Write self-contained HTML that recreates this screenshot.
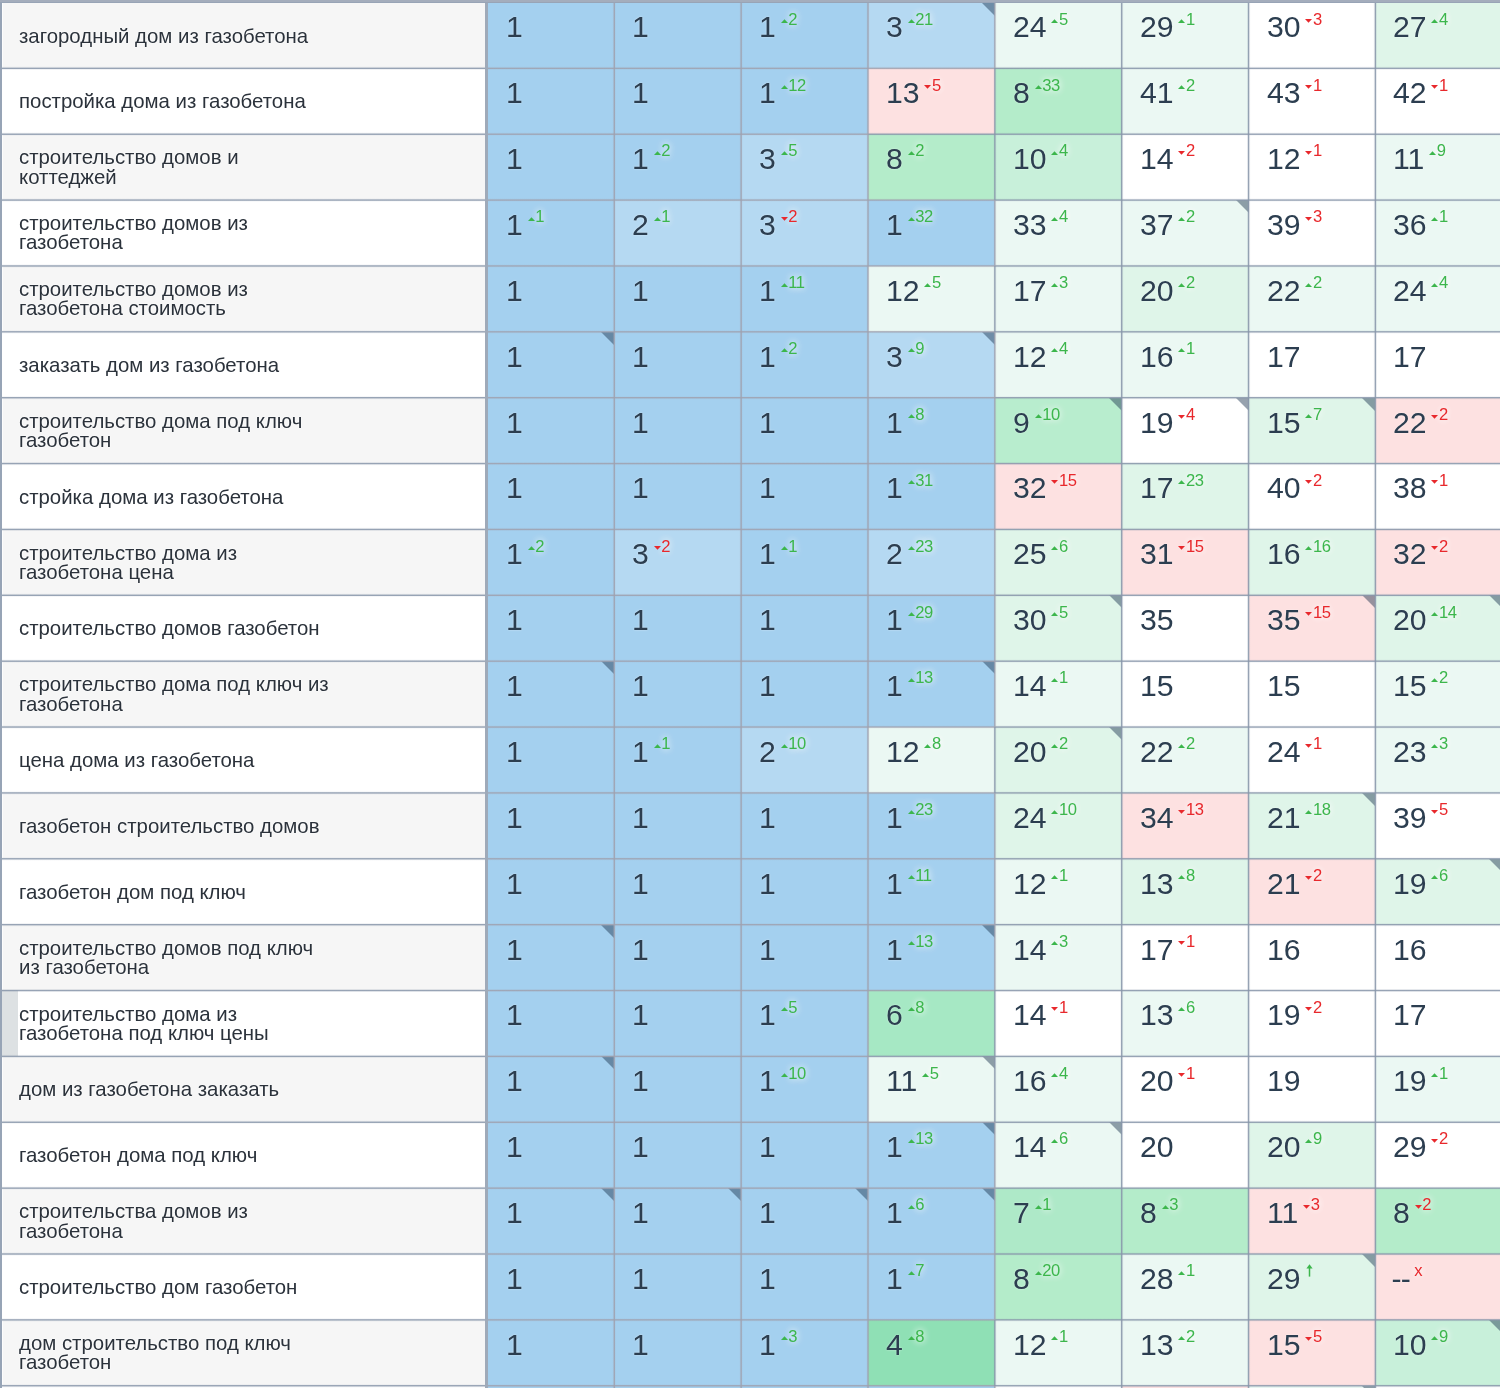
<!DOCTYPE html><html><head><meta charset="utf-8"><title>table</title><style>
html,body{margin:0;padding:0;}
body{width:1500px;height:1388px;overflow:hidden;position:relative;background:#fff;font-family:"Liberation Sans", sans-serif;}
.c{position:absolute;overflow:hidden;}
.l{position:absolute;}
.lc{background:#f6f6f6;}
.lc.e{background:#fff;}
.lt{position:absolute;left:17px;white-space:nowrap;font-size:20.4px;line-height:19.2px;color:#2b323b;text-shadow:0 0 2px #fff,0 0 2px #fff;}
.n{position:absolute;left:18px;white-space:nowrap;font-size:30.2px;line-height:30px;color:#2c3e50;text-shadow:0 0 2px rgba(255,255,255,.55);}
.d{position:relative;font-size:16.6px;letter-spacing:-0.4px;margin-left:4.8px;top:-12.7px;text-shadow:0 0 6px #fff,0 0 10px rgba(255,255,255,.6);}
.up{color:#3cb64c;}
.dn{color:#e8282c;}
.tri{display:inline-block;width:7px;height:4px;vertical-align:baseline;margin-right:0.6px;position:relative;}
.up .tri{top:-1.6px;}
.arr{display:inline-block;width:7px;height:13px;vertical-align:baseline;position:relative;top:0.3px;margin-left:1px;}
.dn .tri{top:-1.4px;}
.cr{position:absolute;top:0;right:0;width:0;height:0;border-top:13.5px solid rgba(24,49,75,.45);border-left:13.5px solid transparent;}

</style></head><body>
<div class="c lc" style="left:2px;top:3px;width:483px;height:65px"><div class="lt" style="top:23.56px">загородный дом из газобетона</div></div>
<div class="c" style="left:488px;top:3px;width:126px;height:65px;background:#a4d0ef"><div class="n" style="top:9.37px">1</div></div>
<div class="c" style="left:614px;top:3px;width:127px;height:65px;background:#a4d0ef"><div class="n" style="top:9.37px">1</div></div>
<div class="c" style="left:741px;top:3px;width:127px;height:65px;background:#a4d0ef"><div class="n" style="top:9.37px">1<span class="d up"><svg class="tri" viewBox="0 0 7 4"><path d="M0 4L3.5 0.2L7 4Z" fill="#3cb64c"/></svg>2</span></div></div>
<div class="c" style="left:868px;top:3px;width:127px;height:65px;background:#b5d9f2"><div class="n" style="top:9.37px">3<span class="d up"><svg class="tri" viewBox="0 0 7 4"><path d="M0 4L3.5 0.2L7 4Z" fill="#3cb64c"/></svg>21</span></div><div class="cr"></div></div>
<div class="c" style="left:995px;top:3px;width:127px;height:65px;background:#ebf8f3"><div class="n" style="top:9.37px">24<span class="d up"><svg class="tri" viewBox="0 0 7 4"><path d="M0 4L3.5 0.2L7 4Z" fill="#3cb64c"/></svg>5</span></div></div>
<div class="c" style="left:1122px;top:3px;width:127px;height:65px;background:#ebf8f3"><div class="n" style="top:9.37px">29<span class="d up"><svg class="tri" viewBox="0 0 7 4"><path d="M0 4L3.5 0.2L7 4Z" fill="#3cb64c"/></svg>1</span></div></div>
<div class="c" style="left:1249px;top:3px;width:126px;height:65px;background:#ffffff"><div class="n" style="top:9.37px">30<span class="d dn"><svg class="tri" viewBox="0 0 7 4"><path d="M0 0L7 0L3.5 3.8Z" fill="#e8282c"/></svg>3</span></div></div>
<div class="c" style="left:1375px;top:3px;width:127px;height:65px;background:#dff5e9"><div class="n" style="top:9.37px">27<span class="d up"><svg class="tri" viewBox="0 0 7 4"><path d="M0 4L3.5 0.2L7 4Z" fill="#3cb64c"/></svg>4</span></div></div>
<div class="c lc e" style="left:2px;top:68px;width:483px;height:66px"><div class="lt" style="top:24.43px">постройка дома из газобетона</div></div>
<div class="c" style="left:488px;top:68px;width:126px;height:66px;background:#a4d0ef"><div class="n" style="top:10.24px">1</div></div>
<div class="c" style="left:614px;top:68px;width:127px;height:66px;background:#a4d0ef"><div class="n" style="top:10.24px">1</div></div>
<div class="c" style="left:741px;top:68px;width:127px;height:66px;background:#a4d0ef"><div class="n" style="top:10.24px">1<span class="d up"><svg class="tri" viewBox="0 0 7 4"><path d="M0 4L3.5 0.2L7 4Z" fill="#3cb64c"/></svg>12</span></div></div>
<div class="c" style="left:868px;top:68px;width:127px;height:66px;background:#fde1e1"><div class="n" style="top:10.24px">13<span class="d dn"><svg class="tri" viewBox="0 0 7 4"><path d="M0 0L7 0L3.5 3.8Z" fill="#e8282c"/></svg>5</span></div></div>
<div class="c" style="left:995px;top:68px;width:127px;height:66px;background:#b4ecca"><div class="n" style="top:10.24px">8<span class="d up"><svg class="tri" viewBox="0 0 7 4"><path d="M0 4L3.5 0.2L7 4Z" fill="#3cb64c"/></svg>33</span></div></div>
<div class="c" style="left:1122px;top:68px;width:127px;height:66px;background:#ebf8f3"><div class="n" style="top:10.24px">41<span class="d up"><svg class="tri" viewBox="0 0 7 4"><path d="M0 4L3.5 0.2L7 4Z" fill="#3cb64c"/></svg>2</span></div></div>
<div class="c" style="left:1249px;top:68px;width:126px;height:66px;background:#ffffff"><div class="n" style="top:10.24px">43<span class="d dn"><svg class="tri" viewBox="0 0 7 4"><path d="M0 0L7 0L3.5 3.8Z" fill="#e8282c"/></svg>1</span></div></div>
<div class="c" style="left:1375px;top:68px;width:127px;height:66px;background:#ffffff"><div class="n" style="top:10.24px">42<span class="d dn"><svg class="tri" viewBox="0 0 7 4"><path d="M0 0L7 0L3.5 3.8Z" fill="#e8282c"/></svg>1</span></div></div>
<div class="c lc" style="left:2px;top:134px;width:483px;height:66px"><div class="lt" style="top:14.40px">строительство домов и<br>коттеджей</div></div>
<div class="c" style="left:488px;top:134px;width:126px;height:66px;background:#a4d0ef"><div class="n" style="top:10.11px">1</div></div>
<div class="c" style="left:614px;top:134px;width:127px;height:66px;background:#a4d0ef"><div class="n" style="top:10.11px">1<span class="d up"><svg class="tri" viewBox="0 0 7 4"><path d="M0 4L3.5 0.2L7 4Z" fill="#3cb64c"/></svg>2</span></div></div>
<div class="c" style="left:741px;top:134px;width:127px;height:66px;background:#b5d9f2"><div class="n" style="top:10.11px">3<span class="d up"><svg class="tri" viewBox="0 0 7 4"><path d="M0 4L3.5 0.2L7 4Z" fill="#3cb64c"/></svg>5</span></div></div>
<div class="c" style="left:868px;top:134px;width:127px;height:66px;background:#b4ecca"><div class="n" style="top:10.11px">8<span class="d up"><svg class="tri" viewBox="0 0 7 4"><path d="M0 4L3.5 0.2L7 4Z" fill="#3cb64c"/></svg>2</span></div></div>
<div class="c" style="left:995px;top:134px;width:127px;height:66px;background:#c8f0da"><div class="n" style="top:10.11px">10<span class="d up"><svg class="tri" viewBox="0 0 7 4"><path d="M0 4L3.5 0.2L7 4Z" fill="#3cb64c"/></svg>4</span></div></div>
<div class="c" style="left:1122px;top:134px;width:127px;height:66px;background:#ffffff"><div class="n" style="top:10.11px">14<span class="d dn"><svg class="tri" viewBox="0 0 7 4"><path d="M0 0L7 0L3.5 3.8Z" fill="#e8282c"/></svg>2</span></div></div>
<div class="c" style="left:1249px;top:134px;width:126px;height:66px;background:#ffffff"><div class="n" style="top:10.11px">12<span class="d dn"><svg class="tri" viewBox="0 0 7 4"><path d="M0 0L7 0L3.5 3.8Z" fill="#e8282c"/></svg>1</span></div></div>
<div class="c" style="left:1375px;top:134px;width:127px;height:66px;background:#ebf8f3"><div class="n" style="top:10.11px">11<span class="d up"><svg class="tri" viewBox="0 0 7 4"><path d="M0 4L3.5 0.2L7 4Z" fill="#3cb64c"/></svg>9</span></div></div>
<div class="c lc e" style="left:2px;top:200px;width:483px;height:66px"><div class="lt" style="top:14.27px">строительство домов из<br>газобетона</div></div>
<div class="c" style="left:488px;top:200px;width:126px;height:66px;background:#a4d0ef"><div class="n" style="top:9.98px">1<span class="d up"><svg class="tri" viewBox="0 0 7 4"><path d="M0 4L3.5 0.2L7 4Z" fill="#3cb64c"/></svg>1</span></div></div>
<div class="c" style="left:614px;top:200px;width:127px;height:66px;background:#b5d9f2"><div class="n" style="top:9.98px">2<span class="d up"><svg class="tri" viewBox="0 0 7 4"><path d="M0 4L3.5 0.2L7 4Z" fill="#3cb64c"/></svg>1</span></div></div>
<div class="c" style="left:741px;top:200px;width:127px;height:66px;background:#b5d9f2"><div class="n" style="top:9.98px">3<span class="d dn"><svg class="tri" viewBox="0 0 7 4"><path d="M0 0L7 0L3.5 3.8Z" fill="#e8282c"/></svg>2</span></div></div>
<div class="c" style="left:868px;top:200px;width:127px;height:66px;background:#a4d0ef"><div class="n" style="top:9.98px">1<span class="d up"><svg class="tri" viewBox="0 0 7 4"><path d="M0 4L3.5 0.2L7 4Z" fill="#3cb64c"/></svg>32</span></div></div>
<div class="c" style="left:995px;top:200px;width:127px;height:66px;background:#ebf8f3"><div class="n" style="top:9.98px">33<span class="d up"><svg class="tri" viewBox="0 0 7 4"><path d="M0 4L3.5 0.2L7 4Z" fill="#3cb64c"/></svg>4</span></div></div>
<div class="c" style="left:1122px;top:200px;width:127px;height:66px;background:#ebf8f3"><div class="n" style="top:9.98px">37<span class="d up"><svg class="tri" viewBox="0 0 7 4"><path d="M0 4L3.5 0.2L7 4Z" fill="#3cb64c"/></svg>2</span></div><div class="cr"></div></div>
<div class="c" style="left:1249px;top:200px;width:126px;height:66px;background:#ffffff"><div class="n" style="top:9.98px">39<span class="d dn"><svg class="tri" viewBox="0 0 7 4"><path d="M0 0L7 0L3.5 3.8Z" fill="#e8282c"/></svg>3</span></div></div>
<div class="c" style="left:1375px;top:200px;width:127px;height:66px;background:#ebf8f3"><div class="n" style="top:9.98px">36<span class="d up"><svg class="tri" viewBox="0 0 7 4"><path d="M0 4L3.5 0.2L7 4Z" fill="#3cb64c"/></svg>1</span></div></div>
<div class="c lc" style="left:2px;top:266px;width:483px;height:66px"><div class="lt" style="top:14.14px">строительство домов из<br>газобетона стоимость</div></div>
<div class="c" style="left:488px;top:266px;width:126px;height:66px;background:#a4d0ef"><div class="n" style="top:9.85px">1</div></div>
<div class="c" style="left:614px;top:266px;width:127px;height:66px;background:#a4d0ef"><div class="n" style="top:9.85px">1</div></div>
<div class="c" style="left:741px;top:266px;width:127px;height:66px;background:#a4d0ef"><div class="n" style="top:9.85px">1<span class="d up"><svg class="tri" viewBox="0 0 7 4"><path d="M0 4L3.5 0.2L7 4Z" fill="#3cb64c"/></svg>11</span></div></div>
<div class="c" style="left:868px;top:266px;width:127px;height:66px;background:#ebf8f3"><div class="n" style="top:9.85px">12<span class="d up"><svg class="tri" viewBox="0 0 7 4"><path d="M0 4L3.5 0.2L7 4Z" fill="#3cb64c"/></svg>5</span></div></div>
<div class="c" style="left:995px;top:266px;width:127px;height:66px;background:#ebf8f3"><div class="n" style="top:9.85px">17<span class="d up"><svg class="tri" viewBox="0 0 7 4"><path d="M0 4L3.5 0.2L7 4Z" fill="#3cb64c"/></svg>3</span></div></div>
<div class="c" style="left:1122px;top:266px;width:127px;height:66px;background:#dff5e9"><div class="n" style="top:9.85px">20<span class="d up"><svg class="tri" viewBox="0 0 7 4"><path d="M0 4L3.5 0.2L7 4Z" fill="#3cb64c"/></svg>2</span></div></div>
<div class="c" style="left:1249px;top:266px;width:126px;height:66px;background:#ebf8f3"><div class="n" style="top:9.85px">22<span class="d up"><svg class="tri" viewBox="0 0 7 4"><path d="M0 4L3.5 0.2L7 4Z" fill="#3cb64c"/></svg>2</span></div></div>
<div class="c" style="left:1375px;top:266px;width:127px;height:66px;background:#ebf8f3"><div class="n" style="top:9.85px">24<span class="d up"><svg class="tri" viewBox="0 0 7 4"><path d="M0 4L3.5 0.2L7 4Z" fill="#3cb64c"/></svg>4</span></div></div>
<div class="c lc e" style="left:2px;top:332px;width:483px;height:66px"><div class="lt" style="top:23.91px">заказать дом из газобетона</div></div>
<div class="c" style="left:488px;top:332px;width:126px;height:66px;background:#a4d0ef"><div class="n" style="top:9.72px">1</div><div class="cr"></div></div>
<div class="c" style="left:614px;top:332px;width:127px;height:66px;background:#a4d0ef"><div class="n" style="top:9.72px">1</div></div>
<div class="c" style="left:741px;top:332px;width:127px;height:66px;background:#a4d0ef"><div class="n" style="top:9.72px">1<span class="d up"><svg class="tri" viewBox="0 0 7 4"><path d="M0 4L3.5 0.2L7 4Z" fill="#3cb64c"/></svg>2</span></div></div>
<div class="c" style="left:868px;top:332px;width:127px;height:66px;background:#b5d9f2"><div class="n" style="top:9.72px">3<span class="d up"><svg class="tri" viewBox="0 0 7 4"><path d="M0 4L3.5 0.2L7 4Z" fill="#3cb64c"/></svg>9</span></div><div class="cr"></div></div>
<div class="c" style="left:995px;top:332px;width:127px;height:66px;background:#ebf8f3"><div class="n" style="top:9.72px">12<span class="d up"><svg class="tri" viewBox="0 0 7 4"><path d="M0 4L3.5 0.2L7 4Z" fill="#3cb64c"/></svg>4</span></div></div>
<div class="c" style="left:1122px;top:332px;width:127px;height:66px;background:#ebf8f3"><div class="n" style="top:9.72px">16<span class="d up"><svg class="tri" viewBox="0 0 7 4"><path d="M0 4L3.5 0.2L7 4Z" fill="#3cb64c"/></svg>1</span></div></div>
<div class="c" style="left:1249px;top:332px;width:126px;height:66px;background:#ffffff"><div class="n" style="top:9.72px">17</div></div>
<div class="c" style="left:1375px;top:332px;width:127px;height:66px;background:#ffffff"><div class="n" style="top:9.72px">17</div></div>
<div class="c lc" style="left:2px;top:398px;width:483px;height:65px"><div class="lt" style="top:13.88px">строительство дома под ключ<br>газобетон</div></div>
<div class="c" style="left:488px;top:398px;width:126px;height:65px;background:#a4d0ef"><div class="n" style="top:9.59px">1</div></div>
<div class="c" style="left:614px;top:398px;width:127px;height:65px;background:#a4d0ef"><div class="n" style="top:9.59px">1</div></div>
<div class="c" style="left:741px;top:398px;width:127px;height:65px;background:#a4d0ef"><div class="n" style="top:9.59px">1</div></div>
<div class="c" style="left:868px;top:398px;width:127px;height:65px;background:#a4d0ef"><div class="n" style="top:9.59px">1<span class="d up"><svg class="tri" viewBox="0 0 7 4"><path d="M0 4L3.5 0.2L7 4Z" fill="#3cb64c"/></svg>8</span></div></div>
<div class="c" style="left:995px;top:398px;width:127px;height:65px;background:#b8edce"><div class="n" style="top:9.59px">9<span class="d up"><svg class="tri" viewBox="0 0 7 4"><path d="M0 4L3.5 0.2L7 4Z" fill="#3cb64c"/></svg>10</span></div><div class="cr"></div></div>
<div class="c" style="left:1122px;top:398px;width:127px;height:65px;background:#ffffff"><div class="n" style="top:9.59px">19<span class="d dn"><svg class="tri" viewBox="0 0 7 4"><path d="M0 0L7 0L3.5 3.8Z" fill="#e8282c"/></svg>4</span></div><div class="cr"></div></div>
<div class="c" style="left:1249px;top:398px;width:126px;height:65px;background:#dff5e9"><div class="n" style="top:9.59px">15<span class="d up"><svg class="tri" viewBox="0 0 7 4"><path d="M0 4L3.5 0.2L7 4Z" fill="#3cb64c"/></svg>7</span></div><div class="cr"></div></div>
<div class="c" style="left:1375px;top:398px;width:127px;height:65px;background:#fde1e1"><div class="n" style="top:9.59px">22<span class="d dn"><svg class="tri" viewBox="0 0 7 4"><path d="M0 0L7 0L3.5 3.8Z" fill="#e8282c"/></svg>2</span></div></div>
<div class="c lc e" style="left:2px;top:463px;width:483px;height:66px"><div class="lt" style="top:24.65px">стройка дома из газобетона</div></div>
<div class="c" style="left:488px;top:463px;width:126px;height:66px;background:#a4d0ef"><div class="n" style="top:10.46px">1</div></div>
<div class="c" style="left:614px;top:463px;width:127px;height:66px;background:#a4d0ef"><div class="n" style="top:10.46px">1</div></div>
<div class="c" style="left:741px;top:463px;width:127px;height:66px;background:#a4d0ef"><div class="n" style="top:10.46px">1</div></div>
<div class="c" style="left:868px;top:463px;width:127px;height:66px;background:#a4d0ef"><div class="n" style="top:10.46px">1<span class="d up"><svg class="tri" viewBox="0 0 7 4"><path d="M0 4L3.5 0.2L7 4Z" fill="#3cb64c"/></svg>31</span></div></div>
<div class="c" style="left:995px;top:463px;width:127px;height:66px;background:#fde1e1"><div class="n" style="top:10.46px">32<span class="d dn"><svg class="tri" viewBox="0 0 7 4"><path d="M0 0L7 0L3.5 3.8Z" fill="#e8282c"/></svg>15</span></div></div>
<div class="c" style="left:1122px;top:463px;width:127px;height:66px;background:#dff5e9"><div class="n" style="top:10.46px">17<span class="d up"><svg class="tri" viewBox="0 0 7 4"><path d="M0 4L3.5 0.2L7 4Z" fill="#3cb64c"/></svg>23</span></div></div>
<div class="c" style="left:1249px;top:463px;width:126px;height:66px;background:#ffffff"><div class="n" style="top:10.46px">40<span class="d dn"><svg class="tri" viewBox="0 0 7 4"><path d="M0 0L7 0L3.5 3.8Z" fill="#e8282c"/></svg>2</span></div></div>
<div class="c" style="left:1375px;top:463px;width:127px;height:66px;background:#ffffff"><div class="n" style="top:10.46px">38<span class="d dn"><svg class="tri" viewBox="0 0 7 4"><path d="M0 0L7 0L3.5 3.8Z" fill="#e8282c"/></svg>1</span></div></div>
<div class="c lc" style="left:2px;top:529px;width:483px;height:66px"><div class="lt" style="top:14.62px">строительство дома из<br>газобетона цена</div></div>
<div class="c" style="left:488px;top:529px;width:126px;height:66px;background:#a4d0ef"><div class="n" style="top:10.33px">1<span class="d up"><svg class="tri" viewBox="0 0 7 4"><path d="M0 4L3.5 0.2L7 4Z" fill="#3cb64c"/></svg>2</span></div></div>
<div class="c" style="left:614px;top:529px;width:127px;height:66px;background:#b5d9f2"><div class="n" style="top:10.33px">3<span class="d dn"><svg class="tri" viewBox="0 0 7 4"><path d="M0 0L7 0L3.5 3.8Z" fill="#e8282c"/></svg>2</span></div></div>
<div class="c" style="left:741px;top:529px;width:127px;height:66px;background:#a4d0ef"><div class="n" style="top:10.33px">1<span class="d up"><svg class="tri" viewBox="0 0 7 4"><path d="M0 4L3.5 0.2L7 4Z" fill="#3cb64c"/></svg>1</span></div></div>
<div class="c" style="left:868px;top:529px;width:127px;height:66px;background:#b5d9f2"><div class="n" style="top:10.33px">2<span class="d up"><svg class="tri" viewBox="0 0 7 4"><path d="M0 4L3.5 0.2L7 4Z" fill="#3cb64c"/></svg>23</span></div></div>
<div class="c" style="left:995px;top:529px;width:127px;height:66px;background:#dff5e9"><div class="n" style="top:10.33px">25<span class="d up"><svg class="tri" viewBox="0 0 7 4"><path d="M0 4L3.5 0.2L7 4Z" fill="#3cb64c"/></svg>6</span></div></div>
<div class="c" style="left:1122px;top:529px;width:127px;height:66px;background:#fde1e1"><div class="n" style="top:10.33px">31<span class="d dn"><svg class="tri" viewBox="0 0 7 4"><path d="M0 0L7 0L3.5 3.8Z" fill="#e8282c"/></svg>15</span></div></div>
<div class="c" style="left:1249px;top:529px;width:126px;height:66px;background:#dff5e9"><div class="n" style="top:10.33px">16<span class="d up"><svg class="tri" viewBox="0 0 7 4"><path d="M0 4L3.5 0.2L7 4Z" fill="#3cb64c"/></svg>16</span></div></div>
<div class="c" style="left:1375px;top:529px;width:127px;height:66px;background:#fde1e1"><div class="n" style="top:10.33px">32<span class="d dn"><svg class="tri" viewBox="0 0 7 4"><path d="M0 0L7 0L3.5 3.8Z" fill="#e8282c"/></svg>2</span></div></div>
<div class="c lc e" style="left:2px;top:595px;width:483px;height:66px"><div class="lt" style="top:24.39px">строительство домов газобетон</div></div>
<div class="c" style="left:488px;top:595px;width:126px;height:66px;background:#a4d0ef"><div class="n" style="top:10.20px">1</div></div>
<div class="c" style="left:614px;top:595px;width:127px;height:66px;background:#a4d0ef"><div class="n" style="top:10.20px">1</div></div>
<div class="c" style="left:741px;top:595px;width:127px;height:66px;background:#a4d0ef"><div class="n" style="top:10.20px">1</div></div>
<div class="c" style="left:868px;top:595px;width:127px;height:66px;background:#a4d0ef"><div class="n" style="top:10.20px">1<span class="d up"><svg class="tri" viewBox="0 0 7 4"><path d="M0 4L3.5 0.2L7 4Z" fill="#3cb64c"/></svg>29</span></div></div>
<div class="c" style="left:995px;top:595px;width:127px;height:66px;background:#dff5e9"><div class="n" style="top:10.20px">30<span class="d up"><svg class="tri" viewBox="0 0 7 4"><path d="M0 4L3.5 0.2L7 4Z" fill="#3cb64c"/></svg>5</span></div><div class="cr"></div></div>
<div class="c" style="left:1122px;top:595px;width:127px;height:66px;background:#ffffff"><div class="n" style="top:10.20px">35</div></div>
<div class="c" style="left:1249px;top:595px;width:126px;height:66px;background:#fde1e1"><div class="n" style="top:10.20px">35<span class="d dn"><svg class="tri" viewBox="0 0 7 4"><path d="M0 0L7 0L3.5 3.8Z" fill="#e8282c"/></svg>15</span></div><div class="cr"></div></div>
<div class="c" style="left:1375px;top:595px;width:127px;height:66px;background:#dff5e9"><div class="n" style="top:10.20px">20<span class="d up"><svg class="tri" viewBox="0 0 7 4"><path d="M0 4L3.5 0.2L7 4Z" fill="#3cb64c"/></svg>14</span></div><div class="cr"></div></div>
<div class="c lc" style="left:2px;top:661px;width:483px;height:66px"><div class="lt" style="top:14.36px">строительство дома под ключ из<br>газобетона</div></div>
<div class="c" style="left:488px;top:661px;width:126px;height:66px;background:#a4d0ef"><div class="n" style="top:10.07px">1</div><div class="cr"></div></div>
<div class="c" style="left:614px;top:661px;width:127px;height:66px;background:#a4d0ef"><div class="n" style="top:10.07px">1</div></div>
<div class="c" style="left:741px;top:661px;width:127px;height:66px;background:#a4d0ef"><div class="n" style="top:10.07px">1</div></div>
<div class="c" style="left:868px;top:661px;width:127px;height:66px;background:#a4d0ef"><div class="n" style="top:10.07px">1<span class="d up"><svg class="tri" viewBox="0 0 7 4"><path d="M0 4L3.5 0.2L7 4Z" fill="#3cb64c"/></svg>13</span></div><div class="cr"></div></div>
<div class="c" style="left:995px;top:661px;width:127px;height:66px;background:#ebf8f3"><div class="n" style="top:10.07px">14<span class="d up"><svg class="tri" viewBox="0 0 7 4"><path d="M0 4L3.5 0.2L7 4Z" fill="#3cb64c"/></svg>1</span></div></div>
<div class="c" style="left:1122px;top:661px;width:127px;height:66px;background:#ffffff"><div class="n" style="top:10.07px">15</div></div>
<div class="c" style="left:1249px;top:661px;width:126px;height:66px;background:#ffffff"><div class="n" style="top:10.07px">15</div></div>
<div class="c" style="left:1375px;top:661px;width:127px;height:66px;background:#ebf8f3"><div class="n" style="top:10.07px">15<span class="d up"><svg class="tri" viewBox="0 0 7 4"><path d="M0 4L3.5 0.2L7 4Z" fill="#3cb64c"/></svg>2</span></div></div>
<div class="c lc e" style="left:2px;top:727px;width:483px;height:66px"><div class="lt" style="top:24.13px">цена дома из газобетона</div></div>
<div class="c" style="left:488px;top:727px;width:126px;height:66px;background:#a4d0ef"><div class="n" style="top:9.94px">1</div></div>
<div class="c" style="left:614px;top:727px;width:127px;height:66px;background:#a4d0ef"><div class="n" style="top:9.94px">1<span class="d up"><svg class="tri" viewBox="0 0 7 4"><path d="M0 4L3.5 0.2L7 4Z" fill="#3cb64c"/></svg>1</span></div></div>
<div class="c" style="left:741px;top:727px;width:127px;height:66px;background:#b5d9f2"><div class="n" style="top:9.94px">2<span class="d up"><svg class="tri" viewBox="0 0 7 4"><path d="M0 4L3.5 0.2L7 4Z" fill="#3cb64c"/></svg>10</span></div></div>
<div class="c" style="left:868px;top:727px;width:127px;height:66px;background:#ebf8f3"><div class="n" style="top:9.94px">12<span class="d up"><svg class="tri" viewBox="0 0 7 4"><path d="M0 4L3.5 0.2L7 4Z" fill="#3cb64c"/></svg>8</span></div></div>
<div class="c" style="left:995px;top:727px;width:127px;height:66px;background:#dff5e9"><div class="n" style="top:9.94px">20<span class="d up"><svg class="tri" viewBox="0 0 7 4"><path d="M0 4L3.5 0.2L7 4Z" fill="#3cb64c"/></svg>2</span></div><div class="cr"></div></div>
<div class="c" style="left:1122px;top:727px;width:127px;height:66px;background:#ebf8f3"><div class="n" style="top:9.94px">22<span class="d up"><svg class="tri" viewBox="0 0 7 4"><path d="M0 4L3.5 0.2L7 4Z" fill="#3cb64c"/></svg>2</span></div></div>
<div class="c" style="left:1249px;top:727px;width:126px;height:66px;background:#ffffff"><div class="n" style="top:9.94px">24<span class="d dn"><svg class="tri" viewBox="0 0 7 4"><path d="M0 0L7 0L3.5 3.8Z" fill="#e8282c"/></svg>1</span></div></div>
<div class="c" style="left:1375px;top:727px;width:127px;height:66px;background:#ebf8f3"><div class="n" style="top:9.94px">23<span class="d up"><svg class="tri" viewBox="0 0 7 4"><path d="M0 4L3.5 0.2L7 4Z" fill="#3cb64c"/></svg>3</span></div></div>
<div class="c lc" style="left:2px;top:793px;width:483px;height:66px"><div class="lt" style="top:24.00px">газобетон строительство домов</div></div>
<div class="c" style="left:488px;top:793px;width:126px;height:66px;background:#a4d0ef"><div class="n" style="top:9.81px">1</div></div>
<div class="c" style="left:614px;top:793px;width:127px;height:66px;background:#a4d0ef"><div class="n" style="top:9.81px">1</div></div>
<div class="c" style="left:741px;top:793px;width:127px;height:66px;background:#a4d0ef"><div class="n" style="top:9.81px">1</div></div>
<div class="c" style="left:868px;top:793px;width:127px;height:66px;background:#a4d0ef"><div class="n" style="top:9.81px">1<span class="d up"><svg class="tri" viewBox="0 0 7 4"><path d="M0 4L3.5 0.2L7 4Z" fill="#3cb64c"/></svg>23</span></div></div>
<div class="c" style="left:995px;top:793px;width:127px;height:66px;background:#dff5e9"><div class="n" style="top:9.81px">24<span class="d up"><svg class="tri" viewBox="0 0 7 4"><path d="M0 4L3.5 0.2L7 4Z" fill="#3cb64c"/></svg>10</span></div></div>
<div class="c" style="left:1122px;top:793px;width:127px;height:66px;background:#fde1e1"><div class="n" style="top:9.81px">34<span class="d dn"><svg class="tri" viewBox="0 0 7 4"><path d="M0 0L7 0L3.5 3.8Z" fill="#e8282c"/></svg>13</span></div></div>
<div class="c" style="left:1249px;top:793px;width:126px;height:66px;background:#dff5e9"><div class="n" style="top:9.81px">21<span class="d up"><svg class="tri" viewBox="0 0 7 4"><path d="M0 4L3.5 0.2L7 4Z" fill="#3cb64c"/></svg>18</span></div><div class="cr"></div></div>
<div class="c" style="left:1375px;top:793px;width:127px;height:66px;background:#ffffff"><div class="n" style="top:9.81px">39<span class="d dn"><svg class="tri" viewBox="0 0 7 4"><path d="M0 0L7 0L3.5 3.8Z" fill="#e8282c"/></svg>5</span></div></div>
<div class="c lc e" style="left:2px;top:859px;width:483px;height:66px"><div class="lt" style="top:23.87px">газобетон дом под ключ</div></div>
<div class="c" style="left:488px;top:859px;width:126px;height:66px;background:#a4d0ef"><div class="n" style="top:9.68px">1</div></div>
<div class="c" style="left:614px;top:859px;width:127px;height:66px;background:#a4d0ef"><div class="n" style="top:9.68px">1</div></div>
<div class="c" style="left:741px;top:859px;width:127px;height:66px;background:#a4d0ef"><div class="n" style="top:9.68px">1</div></div>
<div class="c" style="left:868px;top:859px;width:127px;height:66px;background:#a4d0ef"><div class="n" style="top:9.68px">1<span class="d up"><svg class="tri" viewBox="0 0 7 4"><path d="M0 4L3.5 0.2L7 4Z" fill="#3cb64c"/></svg>11</span></div></div>
<div class="c" style="left:995px;top:859px;width:127px;height:66px;background:#ebf8f3"><div class="n" style="top:9.68px">12<span class="d up"><svg class="tri" viewBox="0 0 7 4"><path d="M0 4L3.5 0.2L7 4Z" fill="#3cb64c"/></svg>1</span></div></div>
<div class="c" style="left:1122px;top:859px;width:127px;height:66px;background:#dff5e9"><div class="n" style="top:9.68px">13<span class="d up"><svg class="tri" viewBox="0 0 7 4"><path d="M0 4L3.5 0.2L7 4Z" fill="#3cb64c"/></svg>8</span></div></div>
<div class="c" style="left:1249px;top:859px;width:126px;height:66px;background:#fde1e1"><div class="n" style="top:9.68px">21<span class="d dn"><svg class="tri" viewBox="0 0 7 4"><path d="M0 0L7 0L3.5 3.8Z" fill="#e8282c"/></svg>2</span></div></div>
<div class="c" style="left:1375px;top:859px;width:127px;height:66px;background:#dff5e9"><div class="n" style="top:9.68px">19<span class="d up"><svg class="tri" viewBox="0 0 7 4"><path d="M0 4L3.5 0.2L7 4Z" fill="#3cb64c"/></svg>6</span></div><div class="cr"></div></div>
<div class="c lc" style="left:2px;top:925px;width:483px;height:65px"><div class="lt" style="top:13.84px">строительство домов под ключ<br>из газобетона</div></div>
<div class="c" style="left:488px;top:925px;width:126px;height:65px;background:#a4d0ef"><div class="n" style="top:9.55px">1</div><div class="cr"></div></div>
<div class="c" style="left:614px;top:925px;width:127px;height:65px;background:#a4d0ef"><div class="n" style="top:9.55px">1</div></div>
<div class="c" style="left:741px;top:925px;width:127px;height:65px;background:#a4d0ef"><div class="n" style="top:9.55px">1</div></div>
<div class="c" style="left:868px;top:925px;width:127px;height:65px;background:#a4d0ef"><div class="n" style="top:9.55px">1<span class="d up"><svg class="tri" viewBox="0 0 7 4"><path d="M0 4L3.5 0.2L7 4Z" fill="#3cb64c"/></svg>13</span></div><div class="cr"></div></div>
<div class="c" style="left:995px;top:925px;width:127px;height:65px;background:#ebf8f3"><div class="n" style="top:9.55px">14<span class="d up"><svg class="tri" viewBox="0 0 7 4"><path d="M0 4L3.5 0.2L7 4Z" fill="#3cb64c"/></svg>3</span></div></div>
<div class="c" style="left:1122px;top:925px;width:127px;height:65px;background:#ffffff"><div class="n" style="top:9.55px">17<span class="d dn"><svg class="tri" viewBox="0 0 7 4"><path d="M0 0L7 0L3.5 3.8Z" fill="#e8282c"/></svg>1</span></div></div>
<div class="c" style="left:1249px;top:925px;width:126px;height:65px;background:#ffffff"><div class="n" style="top:9.55px">16</div></div>
<div class="c" style="left:1375px;top:925px;width:127px;height:65px;background:#ffffff"><div class="n" style="top:9.55px">16</div></div>
<div class="c lc e" style="left:2px;top:990px;width:483px;height:66px"><div class="lt" style="top:14.71px">строительство дома из<br>газобетона под ключ цены</div></div>
<div class="c" style="left:488px;top:990px;width:126px;height:66px;background:#a4d0ef"><div class="n" style="top:10.42px">1</div></div>
<div class="c" style="left:614px;top:990px;width:127px;height:66px;background:#a4d0ef"><div class="n" style="top:10.42px">1</div></div>
<div class="c" style="left:741px;top:990px;width:127px;height:66px;background:#a4d0ef"><div class="n" style="top:10.42px">1<span class="d up"><svg class="tri" viewBox="0 0 7 4"><path d="M0 4L3.5 0.2L7 4Z" fill="#3cb64c"/></svg>5</span></div></div>
<div class="c" style="left:868px;top:990px;width:127px;height:66px;background:#a6e8c4"><div class="n" style="top:10.42px">6<span class="d up"><svg class="tri" viewBox="0 0 7 4"><path d="M0 4L3.5 0.2L7 4Z" fill="#3cb64c"/></svg>8</span></div></div>
<div class="c" style="left:995px;top:990px;width:127px;height:66px;background:#ffffff"><div class="n" style="top:10.42px">14<span class="d dn"><svg class="tri" viewBox="0 0 7 4"><path d="M0 0L7 0L3.5 3.8Z" fill="#e8282c"/></svg>1</span></div></div>
<div class="c" style="left:1122px;top:990px;width:127px;height:66px;background:#ebf8f3"><div class="n" style="top:10.42px">13<span class="d up"><svg class="tri" viewBox="0 0 7 4"><path d="M0 4L3.5 0.2L7 4Z" fill="#3cb64c"/></svg>6</span></div></div>
<div class="c" style="left:1249px;top:990px;width:126px;height:66px;background:#ffffff"><div class="n" style="top:10.42px">19<span class="d dn"><svg class="tri" viewBox="0 0 7 4"><path d="M0 0L7 0L3.5 3.8Z" fill="#e8282c"/></svg>2</span></div></div>
<div class="c" style="left:1375px;top:990px;width:127px;height:66px;background:#ffffff"><div class="n" style="top:10.42px">17</div></div>
<div class="c lc" style="left:2px;top:1056px;width:483px;height:66px"><div class="lt" style="top:24.48px">дом из газобетона заказать</div></div>
<div class="c" style="left:488px;top:1056px;width:126px;height:66px;background:#a4d0ef"><div class="n" style="top:10.29px">1</div><div class="cr"></div></div>
<div class="c" style="left:614px;top:1056px;width:127px;height:66px;background:#a4d0ef"><div class="n" style="top:10.29px">1</div></div>
<div class="c" style="left:741px;top:1056px;width:127px;height:66px;background:#a4d0ef"><div class="n" style="top:10.29px">1<span class="d up"><svg class="tri" viewBox="0 0 7 4"><path d="M0 4L3.5 0.2L7 4Z" fill="#3cb64c"/></svg>10</span></div></div>
<div class="c" style="left:868px;top:1056px;width:127px;height:66px;background:#ebf8f3"><div class="n" style="top:10.29px">11<span class="d up"><svg class="tri" viewBox="0 0 7 4"><path d="M0 4L3.5 0.2L7 4Z" fill="#3cb64c"/></svg>5</span></div><div class="cr"></div></div>
<div class="c" style="left:995px;top:1056px;width:127px;height:66px;background:#ebf8f3"><div class="n" style="top:10.29px">16<span class="d up"><svg class="tri" viewBox="0 0 7 4"><path d="M0 4L3.5 0.2L7 4Z" fill="#3cb64c"/></svg>4</span></div></div>
<div class="c" style="left:1122px;top:1056px;width:127px;height:66px;background:#ffffff"><div class="n" style="top:10.29px">20<span class="d dn"><svg class="tri" viewBox="0 0 7 4"><path d="M0 0L7 0L3.5 3.8Z" fill="#e8282c"/></svg>1</span></div></div>
<div class="c" style="left:1249px;top:1056px;width:126px;height:66px;background:#ffffff"><div class="n" style="top:10.29px">19</div></div>
<div class="c" style="left:1375px;top:1056px;width:127px;height:66px;background:#ebf8f3"><div class="n" style="top:10.29px">19<span class="d up"><svg class="tri" viewBox="0 0 7 4"><path d="M0 4L3.5 0.2L7 4Z" fill="#3cb64c"/></svg>1</span></div></div>
<div class="c lc e" style="left:2px;top:1122px;width:483px;height:66px"><div class="lt" style="top:24.35px">газобетон дома под ключ</div></div>
<div class="c" style="left:488px;top:1122px;width:126px;height:66px;background:#a4d0ef"><div class="n" style="top:10.16px">1</div></div>
<div class="c" style="left:614px;top:1122px;width:127px;height:66px;background:#a4d0ef"><div class="n" style="top:10.16px">1</div></div>
<div class="c" style="left:741px;top:1122px;width:127px;height:66px;background:#a4d0ef"><div class="n" style="top:10.16px">1</div></div>
<div class="c" style="left:868px;top:1122px;width:127px;height:66px;background:#a4d0ef"><div class="n" style="top:10.16px">1<span class="d up"><svg class="tri" viewBox="0 0 7 4"><path d="M0 4L3.5 0.2L7 4Z" fill="#3cb64c"/></svg>13</span></div><div class="cr"></div></div>
<div class="c" style="left:995px;top:1122px;width:127px;height:66px;background:#ebf8f3"><div class="n" style="top:10.16px">14<span class="d up"><svg class="tri" viewBox="0 0 7 4"><path d="M0 4L3.5 0.2L7 4Z" fill="#3cb64c"/></svg>6</span></div><div class="cr"></div></div>
<div class="c" style="left:1122px;top:1122px;width:127px;height:66px;background:#ffffff"><div class="n" style="top:10.16px">20</div></div>
<div class="c" style="left:1249px;top:1122px;width:126px;height:66px;background:#dff5e9"><div class="n" style="top:10.16px">20<span class="d up"><svg class="tri" viewBox="0 0 7 4"><path d="M0 4L3.5 0.2L7 4Z" fill="#3cb64c"/></svg>9</span></div></div>
<div class="c" style="left:1375px;top:1122px;width:127px;height:66px;background:#ffffff"><div class="n" style="top:10.16px">29<span class="d dn"><svg class="tri" viewBox="0 0 7 4"><path d="M0 0L7 0L3.5 3.8Z" fill="#e8282c"/></svg>2</span></div></div>
<div class="c lc" style="left:2px;top:1188px;width:483px;height:66px"><div class="lt" style="top:14.32px">строительства домов из<br>газобетона</div></div>
<div class="c" style="left:488px;top:1188px;width:126px;height:66px;background:#a4d0ef"><div class="n" style="top:10.03px">1</div><div class="cr"></div></div>
<div class="c" style="left:614px;top:1188px;width:127px;height:66px;background:#a4d0ef"><div class="n" style="top:10.03px">1</div><div class="cr"></div></div>
<div class="c" style="left:741px;top:1188px;width:127px;height:66px;background:#a4d0ef"><div class="n" style="top:10.03px">1</div><div class="cr"></div></div>
<div class="c" style="left:868px;top:1188px;width:127px;height:66px;background:#a4d0ef"><div class="n" style="top:10.03px">1<span class="d up"><svg class="tri" viewBox="0 0 7 4"><path d="M0 4L3.5 0.2L7 4Z" fill="#3cb64c"/></svg>6</span></div><div class="cr"></div></div>
<div class="c" style="left:995px;top:1188px;width:127px;height:66px;background:#aee9c8"><div class="n" style="top:10.03px">7<span class="d up"><svg class="tri" viewBox="0 0 7 4"><path d="M0 4L3.5 0.2L7 4Z" fill="#3cb64c"/></svg>1</span></div></div>
<div class="c" style="left:1122px;top:1188px;width:127px;height:66px;background:#b4ecca"><div class="n" style="top:10.03px">8<span class="d up"><svg class="tri" viewBox="0 0 7 4"><path d="M0 4L3.5 0.2L7 4Z" fill="#3cb64c"/></svg>3</span></div></div>
<div class="c" style="left:1249px;top:1188px;width:126px;height:66px;background:#fde1e1"><div class="n" style="top:10.03px">11<span class="d dn"><svg class="tri" viewBox="0 0 7 4"><path d="M0 0L7 0L3.5 3.8Z" fill="#e8282c"/></svg>3</span></div></div>
<div class="c" style="left:1375px;top:1188px;width:127px;height:66px;background:#b4ecca"><div class="n" style="top:10.03px">8<span class="d dn"><svg class="tri" viewBox="0 0 7 4"><path d="M0 0L7 0L3.5 3.8Z" fill="#e8282c"/></svg>2</span></div></div>
<div class="c lc e" style="left:2px;top:1254px;width:483px;height:66px"><div class="lt" style="top:24.09px">строительство дом газобетон</div></div>
<div class="c" style="left:488px;top:1254px;width:126px;height:66px;background:#a4d0ef"><div class="n" style="top:9.90px">1</div></div>
<div class="c" style="left:614px;top:1254px;width:127px;height:66px;background:#a4d0ef"><div class="n" style="top:9.90px">1</div></div>
<div class="c" style="left:741px;top:1254px;width:127px;height:66px;background:#a4d0ef"><div class="n" style="top:9.90px">1</div></div>
<div class="c" style="left:868px;top:1254px;width:127px;height:66px;background:#a4d0ef"><div class="n" style="top:9.90px">1<span class="d up"><svg class="tri" viewBox="0 0 7 4"><path d="M0 4L3.5 0.2L7 4Z" fill="#3cb64c"/></svg>7</span></div></div>
<div class="c" style="left:995px;top:1254px;width:127px;height:66px;background:#b4ecca"><div class="n" style="top:9.90px">8<span class="d up"><svg class="tri" viewBox="0 0 7 4"><path d="M0 4L3.5 0.2L7 4Z" fill="#3cb64c"/></svg>20</span></div></div>
<div class="c" style="left:1122px;top:1254px;width:127px;height:66px;background:#ebf8f3"><div class="n" style="top:9.90px">28<span class="d up"><svg class="tri" viewBox="0 0 7 4"><path d="M0 4L3.5 0.2L7 4Z" fill="#3cb64c"/></svg>1</span></div></div>
<div class="c" style="left:1249px;top:1254px;width:126px;height:66px;background:#dff5e9"><div class="n" style="top:9.90px">29<span class="d up"><svg class="arr" viewBox="0 0 7 13"><path d="M3.5 3.5V12.6" stroke="#3cb64c" stroke-width="1.5"/><path d="M0.4 4.6L3.5 0.3L6.6 4.6Z" fill="#3cb64c"/></svg></span></div><div class="cr"></div></div>
<div class="c" style="left:1375px;top:1254px;width:127px;height:66px;background:#fde1e1"><div class="n" style="top:9.90px"><span style="letter-spacing:-0.9px;margin-left:-1.5px">--</span><span class="d dn" style="margin-left:4.5px">x</span></div></div>
<div class="c lc" style="left:2px;top:1320px;width:483px;height:66px"><div class="lt" style="top:14.06px">дом строительство под ключ<br>газобетон</div></div>
<div class="c" style="left:488px;top:1320px;width:126px;height:66px;background:#a4d0ef"><div class="n" style="top:9.77px">1</div></div>
<div class="c" style="left:614px;top:1320px;width:127px;height:66px;background:#a4d0ef"><div class="n" style="top:9.77px">1</div></div>
<div class="c" style="left:741px;top:1320px;width:127px;height:66px;background:#a4d0ef"><div class="n" style="top:9.77px">1<span class="d up"><svg class="tri" viewBox="0 0 7 4"><path d="M0 4L3.5 0.2L7 4Z" fill="#3cb64c"/></svg>3</span></div></div>
<div class="c" style="left:868px;top:1320px;width:127px;height:66px;background:#8fe0b5"><div class="n" style="top:9.77px">4<span class="d up"><svg class="tri" viewBox="0 0 7 4"><path d="M0 4L3.5 0.2L7 4Z" fill="#3cb64c"/></svg>8</span></div></div>
<div class="c" style="left:995px;top:1320px;width:127px;height:66px;background:#ebf8f3"><div class="n" style="top:9.77px">12<span class="d up"><svg class="tri" viewBox="0 0 7 4"><path d="M0 4L3.5 0.2L7 4Z" fill="#3cb64c"/></svg>1</span></div></div>
<div class="c" style="left:1122px;top:1320px;width:127px;height:66px;background:#ebf8f3"><div class="n" style="top:9.77px">13<span class="d up"><svg class="tri" viewBox="0 0 7 4"><path d="M0 4L3.5 0.2L7 4Z" fill="#3cb64c"/></svg>2</span></div></div>
<div class="c" style="left:1249px;top:1320px;width:126px;height:66px;background:#fde1e1"><div class="n" style="top:9.77px">15<span class="d dn"><svg class="tri" viewBox="0 0 7 4"><path d="M0 0L7 0L3.5 3.8Z" fill="#e8282c"/></svg>5</span></div></div>
<div class="c" style="left:1375px;top:1320px;width:127px;height:66px;background:#c8f0da"><div class="n" style="top:9.77px">10<span class="d up"><svg class="tri" viewBox="0 0 7 4"><path d="M0 4L3.5 0.2L7 4Z" fill="#3cb64c"/></svg>9</span></div><div class="cr"></div></div>
<div class="c lc e" style="left:2px;top:1386px;width:483px;height:65px"></div>
<div class="c" style="left:488px;top:1386px;width:126px;height:65px;background:#a4d0ef"></div>
<div class="c" style="left:614px;top:1386px;width:127px;height:65px;background:#a4d0ef"></div>
<div class="c" style="left:741px;top:1386px;width:127px;height:65px;background:#a4d0ef"></div>
<div class="c" style="left:868px;top:1386px;width:127px;height:65px;background:#a4d0ef"></div>
<div class="c" style="left:995px;top:1386px;width:127px;height:65px;background:#ffffff"></div>
<div class="c" style="left:1122px;top:1386px;width:127px;height:65px;background:#fde1e1"></div>
<div class="c" style="left:1249px;top:1386px;width:126px;height:65px;background:#ebf8f3"><div class="cr"></div></div>
<div class="c" style="left:1375px;top:1386px;width:127px;height:65px;background:#ffffff"></div>
<div class="l" style="left:2px;top:3px;width:1px;height:1385px;background:rgba(255,255,255,.8)"></div>
<div class="l" style="left:2px;top:990px;width:16px;height:66px;background:#dde1e3"></div>
<div class="l" style="left:2px;top:66px;width:483px;height:4px;background:linear-gradient(to bottom,rgba(136,150,170,0.03) 0px 1px,rgba(136,150,170,0.37) 1px 2px,rgba(136,150,170,0.87) 2px 3px,rgba(136,150,170,0.12) 3px 4px)"></div>
<div class="l" style="left:488px;top:66px;width:126px;height:4px;background:linear-gradient(to bottom,rgba(159,161,175,0.03) 0px 1px,rgba(159,161,175,0.37) 1px 2px,rgba(159,161,175,0.87) 2px 3px,rgba(159,161,175,0.12) 3px 4px)"></div>
<div class="l" style="left:614px;top:66px;width:127px;height:4px;background:linear-gradient(to bottom,rgba(159,161,175,0.03) 0px 1px,rgba(159,161,175,0.37) 1px 2px,rgba(159,161,175,0.87) 2px 3px,rgba(159,161,175,0.12) 3px 4px)"></div>
<div class="l" style="left:741px;top:66px;width:127px;height:4px;background:linear-gradient(to bottom,rgba(159,161,175,0.03) 0px 1px,rgba(159,161,175,0.37) 1px 2px,rgba(159,161,175,0.87) 2px 3px,rgba(159,161,175,0.12) 3px 4px)"></div>
<div class="l" style="left:868px;top:66px;width:127px;height:4px;background:linear-gradient(to bottom,rgba(159,161,175,0.03) 0px 1px,rgba(159,161,175,0.37) 1px 2px,rgba(159,161,175,0.87) 2px 3px,rgba(159,161,175,0.12) 3px 4px)"></div>
<div class="l" style="left:995px;top:66px;width:127px;height:4px;background:linear-gradient(to bottom,rgba(136,150,170,0.03) 0px 1px,rgba(136,150,170,0.37) 1px 2px,rgba(136,150,170,0.87) 2px 3px,rgba(136,150,170,0.12) 3px 4px)"></div>
<div class="l" style="left:1122px;top:66px;width:127px;height:4px;background:linear-gradient(to bottom,rgba(136,150,170,0.03) 0px 1px,rgba(136,150,170,0.37) 1px 2px,rgba(136,150,170,0.87) 2px 3px,rgba(136,150,170,0.12) 3px 4px)"></div>
<div class="l" style="left:1249px;top:66px;width:126px;height:4px;background:linear-gradient(to bottom,rgba(136,150,170,0.03) 0px 1px,rgba(136,150,170,0.37) 1px 2px,rgba(136,150,170,0.87) 2px 3px,rgba(136,150,170,0.12) 3px 4px)"></div>
<div class="l" style="left:1375px;top:66px;width:125px;height:4px;background:linear-gradient(to bottom,rgba(136,150,170,0.03) 0px 1px,rgba(136,150,170,0.37) 1px 2px,rgba(136,150,170,0.87) 2px 3px,rgba(136,150,170,0.12) 3px 4px)"></div>
<div class="l" style="left:2px;top:132px;width:483px;height:4px;background:linear-gradient(to bottom,rgba(136,150,170,0.04) 0px 1px,rgba(136,150,170,0.48) 1px 2px,rgba(136,150,170,0.81) 2px 3px,rgba(136,150,170,0.07) 3px 4px)"></div>
<div class="l" style="left:488px;top:132px;width:126px;height:4px;background:linear-gradient(to bottom,rgba(159,161,175,0.04) 0px 1px,rgba(159,161,175,0.48) 1px 2px,rgba(159,161,175,0.81) 2px 3px,rgba(159,161,175,0.07) 3px 4px)"></div>
<div class="l" style="left:614px;top:132px;width:127px;height:4px;background:linear-gradient(to bottom,rgba(159,161,175,0.04) 0px 1px,rgba(159,161,175,0.48) 1px 2px,rgba(159,161,175,0.81) 2px 3px,rgba(159,161,175,0.07) 3px 4px)"></div>
<div class="l" style="left:741px;top:132px;width:127px;height:4px;background:linear-gradient(to bottom,rgba(159,161,175,0.04) 0px 1px,rgba(159,161,175,0.48) 1px 2px,rgba(159,161,175,0.81) 2px 3px,rgba(159,161,175,0.07) 3px 4px)"></div>
<div class="l" style="left:868px;top:132px;width:127px;height:4px;background:linear-gradient(to bottom,rgba(136,150,170,0.04) 0px 1px,rgba(136,150,170,0.48) 1px 2px,rgba(136,150,170,0.81) 2px 3px,rgba(136,150,170,0.07) 3px 4px)"></div>
<div class="l" style="left:995px;top:132px;width:127px;height:4px;background:linear-gradient(to bottom,rgba(136,150,170,0.04) 0px 1px,rgba(136,150,170,0.48) 1px 2px,rgba(136,150,170,0.81) 2px 3px,rgba(136,150,170,0.07) 3px 4px)"></div>
<div class="l" style="left:1122px;top:132px;width:127px;height:4px;background:linear-gradient(to bottom,rgba(136,150,170,0.04) 0px 1px,rgba(136,150,170,0.48) 1px 2px,rgba(136,150,170,0.81) 2px 3px,rgba(136,150,170,0.07) 3px 4px)"></div>
<div class="l" style="left:1249px;top:132px;width:126px;height:4px;background:linear-gradient(to bottom,rgba(136,150,170,0.04) 0px 1px,rgba(136,150,170,0.48) 1px 2px,rgba(136,150,170,0.81) 2px 3px,rgba(136,150,170,0.07) 3px 4px)"></div>
<div class="l" style="left:1375px;top:132px;width:125px;height:4px;background:linear-gradient(to bottom,rgba(136,150,170,0.04) 0px 1px,rgba(136,150,170,0.48) 1px 2px,rgba(136,150,170,0.81) 2px 3px,rgba(136,150,170,0.07) 3px 4px)"></div>
<div class="l" style="left:2px;top:198px;width:483px;height:4px;background:linear-gradient(to bottom,rgba(136,150,170,0.05) 0px 1px,rgba(136,150,170,0.58) 1px 2px,rgba(136,150,170,0.71) 2px 3px,rgba(136,150,170,0.06) 3px 4px)"></div>
<div class="l" style="left:488px;top:198px;width:126px;height:4px;background:linear-gradient(to bottom,rgba(159,161,175,0.05) 0px 1px,rgba(159,161,175,0.58) 1px 2px,rgba(159,161,175,0.71) 2px 3px,rgba(159,161,175,0.06) 3px 4px)"></div>
<div class="l" style="left:614px;top:198px;width:127px;height:4px;background:linear-gradient(to bottom,rgba(159,161,175,0.05) 0px 1px,rgba(159,161,175,0.58) 1px 2px,rgba(159,161,175,0.71) 2px 3px,rgba(159,161,175,0.06) 3px 4px)"></div>
<div class="l" style="left:741px;top:198px;width:127px;height:4px;background:linear-gradient(to bottom,rgba(159,161,175,0.05) 0px 1px,rgba(159,161,175,0.58) 1px 2px,rgba(159,161,175,0.71) 2px 3px,rgba(159,161,175,0.06) 3px 4px)"></div>
<div class="l" style="left:868px;top:198px;width:127px;height:4px;background:linear-gradient(to bottom,rgba(159,161,175,0.05) 0px 1px,rgba(159,161,175,0.58) 1px 2px,rgba(159,161,175,0.71) 2px 3px,rgba(159,161,175,0.06) 3px 4px)"></div>
<div class="l" style="left:995px;top:198px;width:127px;height:4px;background:linear-gradient(to bottom,rgba(136,150,170,0.05) 0px 1px,rgba(136,150,170,0.58) 1px 2px,rgba(136,150,170,0.71) 2px 3px,rgba(136,150,170,0.06) 3px 4px)"></div>
<div class="l" style="left:1122px;top:198px;width:127px;height:4px;background:linear-gradient(to bottom,rgba(136,150,170,0.05) 0px 1px,rgba(136,150,170,0.58) 1px 2px,rgba(136,150,170,0.71) 2px 3px,rgba(136,150,170,0.06) 3px 4px)"></div>
<div class="l" style="left:1249px;top:198px;width:126px;height:4px;background:linear-gradient(to bottom,rgba(136,150,170,0.05) 0px 1px,rgba(136,150,170,0.58) 1px 2px,rgba(136,150,170,0.71) 2px 3px,rgba(136,150,170,0.06) 3px 4px)"></div>
<div class="l" style="left:1375px;top:198px;width:125px;height:4px;background:linear-gradient(to bottom,rgba(136,150,170,0.05) 0px 1px,rgba(136,150,170,0.58) 1px 2px,rgba(136,150,170,0.71) 2px 3px,rgba(136,150,170,0.06) 3px 4px)"></div>
<div class="l" style="left:2px;top:264px;width:483px;height:4px;background:linear-gradient(to bottom,rgba(136,150,170,0.06) 0px 1px,rgba(136,150,170,0.67) 1px 2px,rgba(136,150,170,0.61) 2px 3px,rgba(136,150,170,0.05) 3px 4px)"></div>
<div class="l" style="left:488px;top:264px;width:126px;height:4px;background:linear-gradient(to bottom,rgba(159,161,175,0.06) 0px 1px,rgba(159,161,175,0.67) 1px 2px,rgba(159,161,175,0.61) 2px 3px,rgba(159,161,175,0.05) 3px 4px)"></div>
<div class="l" style="left:614px;top:264px;width:127px;height:4px;background:linear-gradient(to bottom,rgba(159,161,175,0.06) 0px 1px,rgba(159,161,175,0.67) 1px 2px,rgba(159,161,175,0.61) 2px 3px,rgba(159,161,175,0.05) 3px 4px)"></div>
<div class="l" style="left:741px;top:264px;width:127px;height:4px;background:linear-gradient(to bottom,rgba(159,161,175,0.06) 0px 1px,rgba(159,161,175,0.67) 1px 2px,rgba(159,161,175,0.61) 2px 3px,rgba(159,161,175,0.05) 3px 4px)"></div>
<div class="l" style="left:868px;top:264px;width:127px;height:4px;background:linear-gradient(to bottom,rgba(159,161,175,0.06) 0px 1px,rgba(159,161,175,0.67) 1px 2px,rgba(159,161,175,0.61) 2px 3px,rgba(159,161,175,0.05) 3px 4px)"></div>
<div class="l" style="left:995px;top:264px;width:127px;height:4px;background:linear-gradient(to bottom,rgba(136,150,170,0.06) 0px 1px,rgba(136,150,170,0.67) 1px 2px,rgba(136,150,170,0.61) 2px 3px,rgba(136,150,170,0.05) 3px 4px)"></div>
<div class="l" style="left:1122px;top:264px;width:127px;height:4px;background:linear-gradient(to bottom,rgba(136,150,170,0.06) 0px 1px,rgba(136,150,170,0.67) 1px 2px,rgba(136,150,170,0.61) 2px 3px,rgba(136,150,170,0.05) 3px 4px)"></div>
<div class="l" style="left:1249px;top:264px;width:126px;height:4px;background:linear-gradient(to bottom,rgba(136,150,170,0.06) 0px 1px,rgba(136,150,170,0.67) 1px 2px,rgba(136,150,170,0.61) 2px 3px,rgba(136,150,170,0.05) 3px 4px)"></div>
<div class="l" style="left:1375px;top:264px;width:125px;height:4px;background:linear-gradient(to bottom,rgba(136,150,170,0.06) 0px 1px,rgba(136,150,170,0.67) 1px 2px,rgba(136,150,170,0.61) 2px 3px,rgba(136,150,170,0.05) 3px 4px)"></div>
<div class="l" style="left:2px;top:330px;width:483px;height:4px;background:linear-gradient(to bottom,rgba(136,150,170,0.07) 0px 1px,rgba(136,150,170,0.77) 1px 2px,rgba(136,150,170,0.51) 2px 3px,rgba(136,150,170,0.04) 3px 4px)"></div>
<div class="l" style="left:488px;top:330px;width:126px;height:4px;background:linear-gradient(to bottom,rgba(159,161,175,0.07) 0px 1px,rgba(159,161,175,0.77) 1px 2px,rgba(159,161,175,0.51) 2px 3px,rgba(159,161,175,0.04) 3px 4px)"></div>
<div class="l" style="left:614px;top:330px;width:127px;height:4px;background:linear-gradient(to bottom,rgba(159,161,175,0.07) 0px 1px,rgba(159,161,175,0.77) 1px 2px,rgba(159,161,175,0.51) 2px 3px,rgba(159,161,175,0.04) 3px 4px)"></div>
<div class="l" style="left:741px;top:330px;width:127px;height:4px;background:linear-gradient(to bottom,rgba(159,161,175,0.07) 0px 1px,rgba(159,161,175,0.77) 1px 2px,rgba(159,161,175,0.51) 2px 3px,rgba(159,161,175,0.04) 3px 4px)"></div>
<div class="l" style="left:868px;top:330px;width:127px;height:4px;background:linear-gradient(to bottom,rgba(159,161,175,0.07) 0px 1px,rgba(159,161,175,0.77) 1px 2px,rgba(159,161,175,0.51) 2px 3px,rgba(159,161,175,0.04) 3px 4px)"></div>
<div class="l" style="left:995px;top:330px;width:127px;height:4px;background:linear-gradient(to bottom,rgba(136,150,170,0.07) 0px 1px,rgba(136,150,170,0.77) 1px 2px,rgba(136,150,170,0.51) 2px 3px,rgba(136,150,170,0.04) 3px 4px)"></div>
<div class="l" style="left:1122px;top:330px;width:127px;height:4px;background:linear-gradient(to bottom,rgba(136,150,170,0.07) 0px 1px,rgba(136,150,170,0.77) 1px 2px,rgba(136,150,170,0.51) 2px 3px,rgba(136,150,170,0.04) 3px 4px)"></div>
<div class="l" style="left:1249px;top:330px;width:126px;height:4px;background:linear-gradient(to bottom,rgba(136,150,170,0.07) 0px 1px,rgba(136,150,170,0.77) 1px 2px,rgba(136,150,170,0.51) 2px 3px,rgba(136,150,170,0.04) 3px 4px)"></div>
<div class="l" style="left:1375px;top:330px;width:125px;height:4px;background:linear-gradient(to bottom,rgba(136,150,170,0.07) 0px 1px,rgba(136,150,170,0.77) 1px 2px,rgba(136,150,170,0.51) 2px 3px,rgba(136,150,170,0.04) 3px 4px)"></div>
<div class="l" style="left:2px;top:396px;width:483px;height:4px;background:linear-gradient(to bottom,rgba(136,150,170,0.08) 0px 1px,rgba(136,150,170,0.87) 1px 2px,rgba(136,150,170,0.42) 2px 3px,rgba(136,150,170,0.03) 3px 4px)"></div>
<div class="l" style="left:488px;top:396px;width:126px;height:4px;background:linear-gradient(to bottom,rgba(159,161,175,0.08) 0px 1px,rgba(159,161,175,0.87) 1px 2px,rgba(159,161,175,0.42) 2px 3px,rgba(159,161,175,0.03) 3px 4px)"></div>
<div class="l" style="left:614px;top:396px;width:127px;height:4px;background:linear-gradient(to bottom,rgba(159,161,175,0.08) 0px 1px,rgba(159,161,175,0.87) 1px 2px,rgba(159,161,175,0.42) 2px 3px,rgba(159,161,175,0.03) 3px 4px)"></div>
<div class="l" style="left:741px;top:396px;width:127px;height:4px;background:linear-gradient(to bottom,rgba(159,161,175,0.08) 0px 1px,rgba(159,161,175,0.87) 1px 2px,rgba(159,161,175,0.42) 2px 3px,rgba(159,161,175,0.03) 3px 4px)"></div>
<div class="l" style="left:868px;top:396px;width:127px;height:4px;background:linear-gradient(to bottom,rgba(159,161,175,0.08) 0px 1px,rgba(159,161,175,0.87) 1px 2px,rgba(159,161,175,0.42) 2px 3px,rgba(159,161,175,0.03) 3px 4px)"></div>
<div class="l" style="left:995px;top:396px;width:127px;height:4px;background:linear-gradient(to bottom,rgba(136,150,170,0.08) 0px 1px,rgba(136,150,170,0.87) 1px 2px,rgba(136,150,170,0.42) 2px 3px,rgba(136,150,170,0.03) 3px 4px)"></div>
<div class="l" style="left:1122px;top:396px;width:127px;height:4px;background:linear-gradient(to bottom,rgba(136,150,170,0.08) 0px 1px,rgba(136,150,170,0.87) 1px 2px,rgba(136,150,170,0.42) 2px 3px,rgba(136,150,170,0.03) 3px 4px)"></div>
<div class="l" style="left:1249px;top:396px;width:126px;height:4px;background:linear-gradient(to bottom,rgba(136,150,170,0.08) 0px 1px,rgba(136,150,170,0.87) 1px 2px,rgba(136,150,170,0.42) 2px 3px,rgba(136,150,170,0.03) 3px 4px)"></div>
<div class="l" style="left:1375px;top:396px;width:125px;height:4px;background:linear-gradient(to bottom,rgba(136,150,170,0.08) 0px 1px,rgba(136,150,170,0.87) 1px 2px,rgba(136,150,170,0.42) 2px 3px,rgba(136,150,170,0.03) 3px 4px)"></div>
<div class="l" style="left:2px;top:462px;width:483px;height:4px;background:linear-gradient(to bottom,rgba(136,150,170,0.19) 0px 1px,rgba(136,150,170,0.87) 1px 2px,rgba(136,150,170,0.31) 2px 3px,rgba(136,150,170,0.02) 3px 4px)"></div>
<div class="l" style="left:488px;top:462px;width:126px;height:4px;background:linear-gradient(to bottom,rgba(159,161,175,0.19) 0px 1px,rgba(159,161,175,0.87) 1px 2px,rgba(159,161,175,0.31) 2px 3px,rgba(159,161,175,0.02) 3px 4px)"></div>
<div class="l" style="left:614px;top:462px;width:127px;height:4px;background:linear-gradient(to bottom,rgba(159,161,175,0.19) 0px 1px,rgba(159,161,175,0.87) 1px 2px,rgba(159,161,175,0.31) 2px 3px,rgba(159,161,175,0.02) 3px 4px)"></div>
<div class="l" style="left:741px;top:462px;width:127px;height:4px;background:linear-gradient(to bottom,rgba(159,161,175,0.19) 0px 1px,rgba(159,161,175,0.87) 1px 2px,rgba(159,161,175,0.31) 2px 3px,rgba(159,161,175,0.02) 3px 4px)"></div>
<div class="l" style="left:868px;top:462px;width:127px;height:4px;background:linear-gradient(to bottom,rgba(159,161,175,0.19) 0px 1px,rgba(159,161,175,0.87) 1px 2px,rgba(159,161,175,0.31) 2px 3px,rgba(159,161,175,0.02) 3px 4px)"></div>
<div class="l" style="left:995px;top:462px;width:127px;height:4px;background:linear-gradient(to bottom,rgba(136,150,170,0.19) 0px 1px,rgba(136,150,170,0.87) 1px 2px,rgba(136,150,170,0.31) 2px 3px,rgba(136,150,170,0.02) 3px 4px)"></div>
<div class="l" style="left:1122px;top:462px;width:127px;height:4px;background:linear-gradient(to bottom,rgba(136,150,170,0.19) 0px 1px,rgba(136,150,170,0.87) 1px 2px,rgba(136,150,170,0.31) 2px 3px,rgba(136,150,170,0.02) 3px 4px)"></div>
<div class="l" style="left:1249px;top:462px;width:126px;height:4px;background:linear-gradient(to bottom,rgba(136,150,170,0.19) 0px 1px,rgba(136,150,170,0.87) 1px 2px,rgba(136,150,170,0.31) 2px 3px,rgba(136,150,170,0.02) 3px 4px)"></div>
<div class="l" style="left:1375px;top:462px;width:125px;height:4px;background:linear-gradient(to bottom,rgba(136,150,170,0.19) 0px 1px,rgba(136,150,170,0.87) 1px 2px,rgba(136,150,170,0.31) 2px 3px,rgba(136,150,170,0.02) 3px 4px)"></div>
<div class="l" style="left:2px;top:527px;width:483px;height:4px;background:linear-gradient(to bottom,rgba(136,150,170,0.02) 0px 1px,rgba(136,150,170,0.30) 1px 2px,rgba(136,150,170,0.87) 2px 3px,rgba(136,150,170,0.20) 3px 4px)"></div>
<div class="l" style="left:488px;top:527px;width:126px;height:4px;background:linear-gradient(to bottom,rgba(159,161,175,0.02) 0px 1px,rgba(159,161,175,0.30) 1px 2px,rgba(159,161,175,0.87) 2px 3px,rgba(159,161,175,0.20) 3px 4px)"></div>
<div class="l" style="left:614px;top:527px;width:127px;height:4px;background:linear-gradient(to bottom,rgba(159,161,175,0.02) 0px 1px,rgba(159,161,175,0.30) 1px 2px,rgba(159,161,175,0.87) 2px 3px,rgba(159,161,175,0.20) 3px 4px)"></div>
<div class="l" style="left:741px;top:527px;width:127px;height:4px;background:linear-gradient(to bottom,rgba(159,161,175,0.02) 0px 1px,rgba(159,161,175,0.30) 1px 2px,rgba(159,161,175,0.87) 2px 3px,rgba(159,161,175,0.20) 3px 4px)"></div>
<div class="l" style="left:868px;top:527px;width:127px;height:4px;background:linear-gradient(to bottom,rgba(159,161,175,0.02) 0px 1px,rgba(159,161,175,0.30) 1px 2px,rgba(159,161,175,0.87) 2px 3px,rgba(159,161,175,0.20) 3px 4px)"></div>
<div class="l" style="left:995px;top:527px;width:127px;height:4px;background:linear-gradient(to bottom,rgba(136,150,170,0.02) 0px 1px,rgba(136,150,170,0.30) 1px 2px,rgba(136,150,170,0.87) 2px 3px,rgba(136,150,170,0.20) 3px 4px)"></div>
<div class="l" style="left:1122px;top:527px;width:127px;height:4px;background:linear-gradient(to bottom,rgba(136,150,170,0.02) 0px 1px,rgba(136,150,170,0.30) 1px 2px,rgba(136,150,170,0.87) 2px 3px,rgba(136,150,170,0.20) 3px 4px)"></div>
<div class="l" style="left:1249px;top:527px;width:126px;height:4px;background:linear-gradient(to bottom,rgba(136,150,170,0.02) 0px 1px,rgba(136,150,170,0.30) 1px 2px,rgba(136,150,170,0.87) 2px 3px,rgba(136,150,170,0.20) 3px 4px)"></div>
<div class="l" style="left:1375px;top:527px;width:125px;height:4px;background:linear-gradient(to bottom,rgba(136,150,170,0.02) 0px 1px,rgba(136,150,170,0.30) 1px 2px,rgba(136,150,170,0.87) 2px 3px,rgba(136,150,170,0.20) 3px 4px)"></div>
<div class="l" style="left:2px;top:593px;width:483px;height:4px;background:linear-gradient(to bottom,rgba(136,150,170,0.03) 0px 1px,rgba(136,150,170,0.41) 1px 2px,rgba(136,150,170,0.87) 2px 3px,rgba(136,150,170,0.09) 3px 4px)"></div>
<div class="l" style="left:488px;top:593px;width:126px;height:4px;background:linear-gradient(to bottom,rgba(159,161,175,0.03) 0px 1px,rgba(159,161,175,0.41) 1px 2px,rgba(159,161,175,0.87) 2px 3px,rgba(159,161,175,0.09) 3px 4px)"></div>
<div class="l" style="left:614px;top:593px;width:127px;height:4px;background:linear-gradient(to bottom,rgba(159,161,175,0.03) 0px 1px,rgba(159,161,175,0.41) 1px 2px,rgba(159,161,175,0.87) 2px 3px,rgba(159,161,175,0.09) 3px 4px)"></div>
<div class="l" style="left:741px;top:593px;width:127px;height:4px;background:linear-gradient(to bottom,rgba(159,161,175,0.03) 0px 1px,rgba(159,161,175,0.41) 1px 2px,rgba(159,161,175,0.87) 2px 3px,rgba(159,161,175,0.09) 3px 4px)"></div>
<div class="l" style="left:868px;top:593px;width:127px;height:4px;background:linear-gradient(to bottom,rgba(159,161,175,0.03) 0px 1px,rgba(159,161,175,0.41) 1px 2px,rgba(159,161,175,0.87) 2px 3px,rgba(159,161,175,0.09) 3px 4px)"></div>
<div class="l" style="left:995px;top:593px;width:127px;height:4px;background:linear-gradient(to bottom,rgba(136,150,170,0.03) 0px 1px,rgba(136,150,170,0.41) 1px 2px,rgba(136,150,170,0.87) 2px 3px,rgba(136,150,170,0.09) 3px 4px)"></div>
<div class="l" style="left:1122px;top:593px;width:127px;height:4px;background:linear-gradient(to bottom,rgba(136,150,170,0.03) 0px 1px,rgba(136,150,170,0.41) 1px 2px,rgba(136,150,170,0.87) 2px 3px,rgba(136,150,170,0.09) 3px 4px)"></div>
<div class="l" style="left:1249px;top:593px;width:126px;height:4px;background:linear-gradient(to bottom,rgba(136,150,170,0.03) 0px 1px,rgba(136,150,170,0.41) 1px 2px,rgba(136,150,170,0.87) 2px 3px,rgba(136,150,170,0.09) 3px 4px)"></div>
<div class="l" style="left:1375px;top:593px;width:125px;height:4px;background:linear-gradient(to bottom,rgba(136,150,170,0.03) 0px 1px,rgba(136,150,170,0.41) 1px 2px,rgba(136,150,170,0.87) 2px 3px,rgba(136,150,170,0.09) 3px 4px)"></div>
<div class="l" style="left:2px;top:659px;width:483px;height:4px;background:linear-gradient(to bottom,rgba(136,150,170,0.04) 0px 1px,rgba(136,150,170,0.51) 1px 2px,rgba(136,150,170,0.78) 2px 3px,rgba(136,150,170,0.07) 3px 4px)"></div>
<div class="l" style="left:488px;top:659px;width:126px;height:4px;background:linear-gradient(to bottom,rgba(159,161,175,0.04) 0px 1px,rgba(159,161,175,0.51) 1px 2px,rgba(159,161,175,0.78) 2px 3px,rgba(159,161,175,0.07) 3px 4px)"></div>
<div class="l" style="left:614px;top:659px;width:127px;height:4px;background:linear-gradient(to bottom,rgba(159,161,175,0.04) 0px 1px,rgba(159,161,175,0.51) 1px 2px,rgba(159,161,175,0.78) 2px 3px,rgba(159,161,175,0.07) 3px 4px)"></div>
<div class="l" style="left:741px;top:659px;width:127px;height:4px;background:linear-gradient(to bottom,rgba(159,161,175,0.04) 0px 1px,rgba(159,161,175,0.51) 1px 2px,rgba(159,161,175,0.78) 2px 3px,rgba(159,161,175,0.07) 3px 4px)"></div>
<div class="l" style="left:868px;top:659px;width:127px;height:4px;background:linear-gradient(to bottom,rgba(159,161,175,0.04) 0px 1px,rgba(159,161,175,0.51) 1px 2px,rgba(159,161,175,0.78) 2px 3px,rgba(159,161,175,0.07) 3px 4px)"></div>
<div class="l" style="left:995px;top:659px;width:127px;height:4px;background:linear-gradient(to bottom,rgba(136,150,170,0.04) 0px 1px,rgba(136,150,170,0.51) 1px 2px,rgba(136,150,170,0.78) 2px 3px,rgba(136,150,170,0.07) 3px 4px)"></div>
<div class="l" style="left:1122px;top:659px;width:127px;height:4px;background:linear-gradient(to bottom,rgba(136,150,170,0.04) 0px 1px,rgba(136,150,170,0.51) 1px 2px,rgba(136,150,170,0.78) 2px 3px,rgba(136,150,170,0.07) 3px 4px)"></div>
<div class="l" style="left:1249px;top:659px;width:126px;height:4px;background:linear-gradient(to bottom,rgba(136,150,170,0.04) 0px 1px,rgba(136,150,170,0.51) 1px 2px,rgba(136,150,170,0.78) 2px 3px,rgba(136,150,170,0.07) 3px 4px)"></div>
<div class="l" style="left:1375px;top:659px;width:125px;height:4px;background:linear-gradient(to bottom,rgba(136,150,170,0.04) 0px 1px,rgba(136,150,170,0.51) 1px 2px,rgba(136,150,170,0.78) 2px 3px,rgba(136,150,170,0.07) 3px 4px)"></div>
<div class="l" style="left:2px;top:725px;width:483px;height:4px;background:linear-gradient(to bottom,rgba(136,150,170,0.05) 0px 1px,rgba(136,150,170,0.61) 1px 2px,rgba(136,150,170,0.68) 2px 3px,rgba(136,150,170,0.06) 3px 4px)"></div>
<div class="l" style="left:488px;top:725px;width:126px;height:4px;background:linear-gradient(to bottom,rgba(159,161,175,0.05) 0px 1px,rgba(159,161,175,0.61) 1px 2px,rgba(159,161,175,0.68) 2px 3px,rgba(159,161,175,0.06) 3px 4px)"></div>
<div class="l" style="left:614px;top:725px;width:127px;height:4px;background:linear-gradient(to bottom,rgba(159,161,175,0.05) 0px 1px,rgba(159,161,175,0.61) 1px 2px,rgba(159,161,175,0.68) 2px 3px,rgba(159,161,175,0.06) 3px 4px)"></div>
<div class="l" style="left:741px;top:725px;width:127px;height:4px;background:linear-gradient(to bottom,rgba(159,161,175,0.05) 0px 1px,rgba(159,161,175,0.61) 1px 2px,rgba(159,161,175,0.68) 2px 3px,rgba(159,161,175,0.06) 3px 4px)"></div>
<div class="l" style="left:868px;top:725px;width:127px;height:4px;background:linear-gradient(to bottom,rgba(159,161,175,0.05) 0px 1px,rgba(159,161,175,0.61) 1px 2px,rgba(159,161,175,0.68) 2px 3px,rgba(159,161,175,0.06) 3px 4px)"></div>
<div class="l" style="left:995px;top:725px;width:127px;height:4px;background:linear-gradient(to bottom,rgba(136,150,170,0.05) 0px 1px,rgba(136,150,170,0.61) 1px 2px,rgba(136,150,170,0.68) 2px 3px,rgba(136,150,170,0.06) 3px 4px)"></div>
<div class="l" style="left:1122px;top:725px;width:127px;height:4px;background:linear-gradient(to bottom,rgba(136,150,170,0.05) 0px 1px,rgba(136,150,170,0.61) 1px 2px,rgba(136,150,170,0.68) 2px 3px,rgba(136,150,170,0.06) 3px 4px)"></div>
<div class="l" style="left:1249px;top:725px;width:126px;height:4px;background:linear-gradient(to bottom,rgba(136,150,170,0.05) 0px 1px,rgba(136,150,170,0.61) 1px 2px,rgba(136,150,170,0.68) 2px 3px,rgba(136,150,170,0.06) 3px 4px)"></div>
<div class="l" style="left:1375px;top:725px;width:125px;height:4px;background:linear-gradient(to bottom,rgba(136,150,170,0.05) 0px 1px,rgba(136,150,170,0.61) 1px 2px,rgba(136,150,170,0.68) 2px 3px,rgba(136,150,170,0.06) 3px 4px)"></div>
<div class="l" style="left:2px;top:791px;width:483px;height:4px;background:linear-gradient(to bottom,rgba(136,150,170,0.06) 0px 1px,rgba(136,150,170,0.70) 1px 2px,rgba(136,150,170,0.58) 2px 3px,rgba(136,150,170,0.05) 3px 4px)"></div>
<div class="l" style="left:488px;top:791px;width:126px;height:4px;background:linear-gradient(to bottom,rgba(159,161,175,0.06) 0px 1px,rgba(159,161,175,0.70) 1px 2px,rgba(159,161,175,0.58) 2px 3px,rgba(159,161,175,0.05) 3px 4px)"></div>
<div class="l" style="left:614px;top:791px;width:127px;height:4px;background:linear-gradient(to bottom,rgba(159,161,175,0.06) 0px 1px,rgba(159,161,175,0.70) 1px 2px,rgba(159,161,175,0.58) 2px 3px,rgba(159,161,175,0.05) 3px 4px)"></div>
<div class="l" style="left:741px;top:791px;width:127px;height:4px;background:linear-gradient(to bottom,rgba(159,161,175,0.06) 0px 1px,rgba(159,161,175,0.70) 1px 2px,rgba(159,161,175,0.58) 2px 3px,rgba(159,161,175,0.05) 3px 4px)"></div>
<div class="l" style="left:868px;top:791px;width:127px;height:4px;background:linear-gradient(to bottom,rgba(159,161,175,0.06) 0px 1px,rgba(159,161,175,0.70) 1px 2px,rgba(159,161,175,0.58) 2px 3px,rgba(159,161,175,0.05) 3px 4px)"></div>
<div class="l" style="left:995px;top:791px;width:127px;height:4px;background:linear-gradient(to bottom,rgba(136,150,170,0.06) 0px 1px,rgba(136,150,170,0.70) 1px 2px,rgba(136,150,170,0.58) 2px 3px,rgba(136,150,170,0.05) 3px 4px)"></div>
<div class="l" style="left:1122px;top:791px;width:127px;height:4px;background:linear-gradient(to bottom,rgba(136,150,170,0.06) 0px 1px,rgba(136,150,170,0.70) 1px 2px,rgba(136,150,170,0.58) 2px 3px,rgba(136,150,170,0.05) 3px 4px)"></div>
<div class="l" style="left:1249px;top:791px;width:126px;height:4px;background:linear-gradient(to bottom,rgba(136,150,170,0.06) 0px 1px,rgba(136,150,170,0.70) 1px 2px,rgba(136,150,170,0.58) 2px 3px,rgba(136,150,170,0.05) 3px 4px)"></div>
<div class="l" style="left:1375px;top:791px;width:125px;height:4px;background:linear-gradient(to bottom,rgba(136,150,170,0.06) 0px 1px,rgba(136,150,170,0.70) 1px 2px,rgba(136,150,170,0.58) 2px 3px,rgba(136,150,170,0.05) 3px 4px)"></div>
<div class="l" style="left:2px;top:857px;width:483px;height:4px;background:linear-gradient(to bottom,rgba(136,150,170,0.07) 0px 1px,rgba(136,150,170,0.80) 1px 2px,rgba(136,150,170,0.48) 2px 3px,rgba(136,150,170,0.04) 3px 4px)"></div>
<div class="l" style="left:488px;top:857px;width:126px;height:4px;background:linear-gradient(to bottom,rgba(159,161,175,0.07) 0px 1px,rgba(159,161,175,0.80) 1px 2px,rgba(159,161,175,0.48) 2px 3px,rgba(159,161,175,0.04) 3px 4px)"></div>
<div class="l" style="left:614px;top:857px;width:127px;height:4px;background:linear-gradient(to bottom,rgba(159,161,175,0.07) 0px 1px,rgba(159,161,175,0.80) 1px 2px,rgba(159,161,175,0.48) 2px 3px,rgba(159,161,175,0.04) 3px 4px)"></div>
<div class="l" style="left:741px;top:857px;width:127px;height:4px;background:linear-gradient(to bottom,rgba(159,161,175,0.07) 0px 1px,rgba(159,161,175,0.80) 1px 2px,rgba(159,161,175,0.48) 2px 3px,rgba(159,161,175,0.04) 3px 4px)"></div>
<div class="l" style="left:868px;top:857px;width:127px;height:4px;background:linear-gradient(to bottom,rgba(159,161,175,0.07) 0px 1px,rgba(159,161,175,0.80) 1px 2px,rgba(159,161,175,0.48) 2px 3px,rgba(159,161,175,0.04) 3px 4px)"></div>
<div class="l" style="left:995px;top:857px;width:127px;height:4px;background:linear-gradient(to bottom,rgba(136,150,170,0.07) 0px 1px,rgba(136,150,170,0.80) 1px 2px,rgba(136,150,170,0.48) 2px 3px,rgba(136,150,170,0.04) 3px 4px)"></div>
<div class="l" style="left:1122px;top:857px;width:127px;height:4px;background:linear-gradient(to bottom,rgba(136,150,170,0.07) 0px 1px,rgba(136,150,170,0.80) 1px 2px,rgba(136,150,170,0.48) 2px 3px,rgba(136,150,170,0.04) 3px 4px)"></div>
<div class="l" style="left:1249px;top:857px;width:126px;height:4px;background:linear-gradient(to bottom,rgba(136,150,170,0.07) 0px 1px,rgba(136,150,170,0.80) 1px 2px,rgba(136,150,170,0.48) 2px 3px,rgba(136,150,170,0.04) 3px 4px)"></div>
<div class="l" style="left:1375px;top:857px;width:125px;height:4px;background:linear-gradient(to bottom,rgba(136,150,170,0.07) 0px 1px,rgba(136,150,170,0.80) 1px 2px,rgba(136,150,170,0.48) 2px 3px,rgba(136,150,170,0.04) 3px 4px)"></div>
<div class="l" style="left:2px;top:923px;width:483px;height:4px;background:linear-gradient(to bottom,rgba(136,150,170,0.11) 0px 1px,rgba(136,150,170,0.87) 1px 2px,rgba(136,150,170,0.38) 2px 3px,rgba(136,150,170,0.03) 3px 4px)"></div>
<div class="l" style="left:488px;top:923px;width:126px;height:4px;background:linear-gradient(to bottom,rgba(159,161,175,0.11) 0px 1px,rgba(159,161,175,0.87) 1px 2px,rgba(159,161,175,0.38) 2px 3px,rgba(159,161,175,0.03) 3px 4px)"></div>
<div class="l" style="left:614px;top:923px;width:127px;height:4px;background:linear-gradient(to bottom,rgba(159,161,175,0.11) 0px 1px,rgba(159,161,175,0.87) 1px 2px,rgba(159,161,175,0.38) 2px 3px,rgba(159,161,175,0.03) 3px 4px)"></div>
<div class="l" style="left:741px;top:923px;width:127px;height:4px;background:linear-gradient(to bottom,rgba(159,161,175,0.11) 0px 1px,rgba(159,161,175,0.87) 1px 2px,rgba(159,161,175,0.38) 2px 3px,rgba(159,161,175,0.03) 3px 4px)"></div>
<div class="l" style="left:868px;top:923px;width:127px;height:4px;background:linear-gradient(to bottom,rgba(159,161,175,0.11) 0px 1px,rgba(159,161,175,0.87) 1px 2px,rgba(159,161,175,0.38) 2px 3px,rgba(159,161,175,0.03) 3px 4px)"></div>
<div class="l" style="left:995px;top:923px;width:127px;height:4px;background:linear-gradient(to bottom,rgba(136,150,170,0.11) 0px 1px,rgba(136,150,170,0.87) 1px 2px,rgba(136,150,170,0.38) 2px 3px,rgba(136,150,170,0.03) 3px 4px)"></div>
<div class="l" style="left:1122px;top:923px;width:127px;height:4px;background:linear-gradient(to bottom,rgba(136,150,170,0.11) 0px 1px,rgba(136,150,170,0.87) 1px 2px,rgba(136,150,170,0.38) 2px 3px,rgba(136,150,170,0.03) 3px 4px)"></div>
<div class="l" style="left:1249px;top:923px;width:126px;height:4px;background:linear-gradient(to bottom,rgba(136,150,170,0.11) 0px 1px,rgba(136,150,170,0.87) 1px 2px,rgba(136,150,170,0.38) 2px 3px,rgba(136,150,170,0.03) 3px 4px)"></div>
<div class="l" style="left:1375px;top:923px;width:125px;height:4px;background:linear-gradient(to bottom,rgba(136,150,170,0.11) 0px 1px,rgba(136,150,170,0.87) 1px 2px,rgba(136,150,170,0.38) 2px 3px,rgba(136,150,170,0.03) 3px 4px)"></div>
<div class="l" style="left:2px;top:989px;width:483px;height:3px;background:linear-gradient(to bottom,rgba(136,150,170,0.22) 0px 1px,rgba(136,150,170,0.87) 1px 2px,rgba(136,150,170,0.27) 2px 3px)"></div>
<div class="l" style="left:488px;top:989px;width:126px;height:3px;background:linear-gradient(to bottom,rgba(159,161,175,0.22) 0px 1px,rgba(159,161,175,0.87) 1px 2px,rgba(159,161,175,0.27) 2px 3px)"></div>
<div class="l" style="left:614px;top:989px;width:127px;height:3px;background:linear-gradient(to bottom,rgba(159,161,175,0.22) 0px 1px,rgba(159,161,175,0.87) 1px 2px,rgba(159,161,175,0.27) 2px 3px)"></div>
<div class="l" style="left:741px;top:989px;width:127px;height:3px;background:linear-gradient(to bottom,rgba(159,161,175,0.22) 0px 1px,rgba(159,161,175,0.87) 1px 2px,rgba(159,161,175,0.27) 2px 3px)"></div>
<div class="l" style="left:868px;top:989px;width:127px;height:3px;background:linear-gradient(to bottom,rgba(159,161,175,0.22) 0px 1px,rgba(159,161,175,0.87) 1px 2px,rgba(159,161,175,0.27) 2px 3px)"></div>
<div class="l" style="left:995px;top:989px;width:127px;height:3px;background:linear-gradient(to bottom,rgba(136,150,170,0.22) 0px 1px,rgba(136,150,170,0.87) 1px 2px,rgba(136,150,170,0.27) 2px 3px)"></div>
<div class="l" style="left:1122px;top:989px;width:127px;height:3px;background:linear-gradient(to bottom,rgba(136,150,170,0.22) 0px 1px,rgba(136,150,170,0.87) 1px 2px,rgba(136,150,170,0.27) 2px 3px)"></div>
<div class="l" style="left:1249px;top:989px;width:126px;height:3px;background:linear-gradient(to bottom,rgba(136,150,170,0.22) 0px 1px,rgba(136,150,170,0.87) 1px 2px,rgba(136,150,170,0.27) 2px 3px)"></div>
<div class="l" style="left:1375px;top:989px;width:125px;height:3px;background:linear-gradient(to bottom,rgba(136,150,170,0.22) 0px 1px,rgba(136,150,170,0.87) 1px 2px,rgba(136,150,170,0.27) 2px 3px)"></div>
<div class="l" style="left:2px;top:1054px;width:483px;height:4px;background:linear-gradient(to bottom,rgba(136,150,170,0.02) 0px 1px,rgba(136,150,170,0.33) 1px 2px,rgba(136,150,170,0.87) 2px 3px,rgba(136,150,170,0.16) 3px 4px)"></div>
<div class="l" style="left:488px;top:1054px;width:126px;height:4px;background:linear-gradient(to bottom,rgba(159,161,175,0.02) 0px 1px,rgba(159,161,175,0.33) 1px 2px,rgba(159,161,175,0.87) 2px 3px,rgba(159,161,175,0.16) 3px 4px)"></div>
<div class="l" style="left:614px;top:1054px;width:127px;height:4px;background:linear-gradient(to bottom,rgba(159,161,175,0.02) 0px 1px,rgba(159,161,175,0.33) 1px 2px,rgba(159,161,175,0.87) 2px 3px,rgba(159,161,175,0.16) 3px 4px)"></div>
<div class="l" style="left:741px;top:1054px;width:127px;height:4px;background:linear-gradient(to bottom,rgba(159,161,175,0.02) 0px 1px,rgba(159,161,175,0.33) 1px 2px,rgba(159,161,175,0.87) 2px 3px,rgba(159,161,175,0.16) 3px 4px)"></div>
<div class="l" style="left:868px;top:1054px;width:127px;height:4px;background:linear-gradient(to bottom,rgba(136,150,170,0.02) 0px 1px,rgba(136,150,170,0.33) 1px 2px,rgba(136,150,170,0.87) 2px 3px,rgba(136,150,170,0.16) 3px 4px)"></div>
<div class="l" style="left:995px;top:1054px;width:127px;height:4px;background:linear-gradient(to bottom,rgba(136,150,170,0.02) 0px 1px,rgba(136,150,170,0.33) 1px 2px,rgba(136,150,170,0.87) 2px 3px,rgba(136,150,170,0.16) 3px 4px)"></div>
<div class="l" style="left:1122px;top:1054px;width:127px;height:4px;background:linear-gradient(to bottom,rgba(136,150,170,0.02) 0px 1px,rgba(136,150,170,0.33) 1px 2px,rgba(136,150,170,0.87) 2px 3px,rgba(136,150,170,0.16) 3px 4px)"></div>
<div class="l" style="left:1249px;top:1054px;width:126px;height:4px;background:linear-gradient(to bottom,rgba(136,150,170,0.02) 0px 1px,rgba(136,150,170,0.33) 1px 2px,rgba(136,150,170,0.87) 2px 3px,rgba(136,150,170,0.16) 3px 4px)"></div>
<div class="l" style="left:1375px;top:1054px;width:125px;height:4px;background:linear-gradient(to bottom,rgba(136,150,170,0.02) 0px 1px,rgba(136,150,170,0.33) 1px 2px,rgba(136,150,170,0.87) 2px 3px,rgba(136,150,170,0.16) 3px 4px)"></div>
<div class="l" style="left:2px;top:1120px;width:483px;height:4px;background:linear-gradient(to bottom,rgba(136,150,170,0.03) 0px 1px,rgba(136,150,170,0.44) 1px 2px,rgba(136,150,170,0.85) 2px 3px,rgba(136,150,170,0.08) 3px 4px)"></div>
<div class="l" style="left:488px;top:1120px;width:126px;height:4px;background:linear-gradient(to bottom,rgba(159,161,175,0.03) 0px 1px,rgba(159,161,175,0.44) 1px 2px,rgba(159,161,175,0.85) 2px 3px,rgba(159,161,175,0.08) 3px 4px)"></div>
<div class="l" style="left:614px;top:1120px;width:127px;height:4px;background:linear-gradient(to bottom,rgba(159,161,175,0.03) 0px 1px,rgba(159,161,175,0.44) 1px 2px,rgba(159,161,175,0.85) 2px 3px,rgba(159,161,175,0.08) 3px 4px)"></div>
<div class="l" style="left:741px;top:1120px;width:127px;height:4px;background:linear-gradient(to bottom,rgba(159,161,175,0.03) 0px 1px,rgba(159,161,175,0.44) 1px 2px,rgba(159,161,175,0.85) 2px 3px,rgba(159,161,175,0.08) 3px 4px)"></div>
<div class="l" style="left:868px;top:1120px;width:127px;height:4px;background:linear-gradient(to bottom,rgba(159,161,175,0.03) 0px 1px,rgba(159,161,175,0.44) 1px 2px,rgba(159,161,175,0.85) 2px 3px,rgba(159,161,175,0.08) 3px 4px)"></div>
<div class="l" style="left:995px;top:1120px;width:127px;height:4px;background:linear-gradient(to bottom,rgba(136,150,170,0.03) 0px 1px,rgba(136,150,170,0.44) 1px 2px,rgba(136,150,170,0.85) 2px 3px,rgba(136,150,170,0.08) 3px 4px)"></div>
<div class="l" style="left:1122px;top:1120px;width:127px;height:4px;background:linear-gradient(to bottom,rgba(136,150,170,0.03) 0px 1px,rgba(136,150,170,0.44) 1px 2px,rgba(136,150,170,0.85) 2px 3px,rgba(136,150,170,0.08) 3px 4px)"></div>
<div class="l" style="left:1249px;top:1120px;width:126px;height:4px;background:linear-gradient(to bottom,rgba(136,150,170,0.03) 0px 1px,rgba(136,150,170,0.44) 1px 2px,rgba(136,150,170,0.85) 2px 3px,rgba(136,150,170,0.08) 3px 4px)"></div>
<div class="l" style="left:1375px;top:1120px;width:125px;height:4px;background:linear-gradient(to bottom,rgba(136,150,170,0.03) 0px 1px,rgba(136,150,170,0.44) 1px 2px,rgba(136,150,170,0.85) 2px 3px,rgba(136,150,170,0.08) 3px 4px)"></div>
<div class="l" style="left:2px;top:1186px;width:483px;height:4px;background:linear-gradient(to bottom,rgba(136,150,170,0.04) 0px 1px,rgba(136,150,170,0.54) 1px 2px,rgba(136,150,170,0.75) 2px 3px,rgba(136,150,170,0.07) 3px 4px)"></div>
<div class="l" style="left:488px;top:1186px;width:126px;height:4px;background:linear-gradient(to bottom,rgba(159,161,175,0.04) 0px 1px,rgba(159,161,175,0.54) 1px 2px,rgba(159,161,175,0.75) 2px 3px,rgba(159,161,175,0.07) 3px 4px)"></div>
<div class="l" style="left:614px;top:1186px;width:127px;height:4px;background:linear-gradient(to bottom,rgba(159,161,175,0.04) 0px 1px,rgba(159,161,175,0.54) 1px 2px,rgba(159,161,175,0.75) 2px 3px,rgba(159,161,175,0.07) 3px 4px)"></div>
<div class="l" style="left:741px;top:1186px;width:127px;height:4px;background:linear-gradient(to bottom,rgba(159,161,175,0.04) 0px 1px,rgba(159,161,175,0.54) 1px 2px,rgba(159,161,175,0.75) 2px 3px,rgba(159,161,175,0.07) 3px 4px)"></div>
<div class="l" style="left:868px;top:1186px;width:127px;height:4px;background:linear-gradient(to bottom,rgba(159,161,175,0.04) 0px 1px,rgba(159,161,175,0.54) 1px 2px,rgba(159,161,175,0.75) 2px 3px,rgba(159,161,175,0.07) 3px 4px)"></div>
<div class="l" style="left:995px;top:1186px;width:127px;height:4px;background:linear-gradient(to bottom,rgba(136,150,170,0.04) 0px 1px,rgba(136,150,170,0.54) 1px 2px,rgba(136,150,170,0.75) 2px 3px,rgba(136,150,170,0.07) 3px 4px)"></div>
<div class="l" style="left:1122px;top:1186px;width:127px;height:4px;background:linear-gradient(to bottom,rgba(136,150,170,0.04) 0px 1px,rgba(136,150,170,0.54) 1px 2px,rgba(136,150,170,0.75) 2px 3px,rgba(136,150,170,0.07) 3px 4px)"></div>
<div class="l" style="left:1249px;top:1186px;width:126px;height:4px;background:linear-gradient(to bottom,rgba(136,150,170,0.04) 0px 1px,rgba(136,150,170,0.54) 1px 2px,rgba(136,150,170,0.75) 2px 3px,rgba(136,150,170,0.07) 3px 4px)"></div>
<div class="l" style="left:1375px;top:1186px;width:125px;height:4px;background:linear-gradient(to bottom,rgba(136,150,170,0.04) 0px 1px,rgba(136,150,170,0.54) 1px 2px,rgba(136,150,170,0.75) 2px 3px,rgba(136,150,170,0.07) 3px 4px)"></div>
<div class="l" style="left:2px;top:1252px;width:483px;height:4px;background:linear-gradient(to bottom,rgba(136,150,170,0.06) 0px 1px,rgba(136,150,170,0.64) 1px 2px,rgba(136,150,170,0.65) 2px 3px,rgba(136,150,170,0.06) 3px 4px)"></div>
<div class="l" style="left:488px;top:1252px;width:126px;height:4px;background:linear-gradient(to bottom,rgba(159,161,175,0.06) 0px 1px,rgba(159,161,175,0.64) 1px 2px,rgba(159,161,175,0.65) 2px 3px,rgba(159,161,175,0.06) 3px 4px)"></div>
<div class="l" style="left:614px;top:1252px;width:127px;height:4px;background:linear-gradient(to bottom,rgba(159,161,175,0.06) 0px 1px,rgba(159,161,175,0.64) 1px 2px,rgba(159,161,175,0.65) 2px 3px,rgba(159,161,175,0.06) 3px 4px)"></div>
<div class="l" style="left:741px;top:1252px;width:127px;height:4px;background:linear-gradient(to bottom,rgba(159,161,175,0.06) 0px 1px,rgba(159,161,175,0.64) 1px 2px,rgba(159,161,175,0.65) 2px 3px,rgba(159,161,175,0.06) 3px 4px)"></div>
<div class="l" style="left:868px;top:1252px;width:127px;height:4px;background:linear-gradient(to bottom,rgba(159,161,175,0.06) 0px 1px,rgba(159,161,175,0.64) 1px 2px,rgba(159,161,175,0.65) 2px 3px,rgba(159,161,175,0.06) 3px 4px)"></div>
<div class="l" style="left:995px;top:1252px;width:127px;height:4px;background:linear-gradient(to bottom,rgba(136,150,170,0.06) 0px 1px,rgba(136,150,170,0.64) 1px 2px,rgba(136,150,170,0.65) 2px 3px,rgba(136,150,170,0.06) 3px 4px)"></div>
<div class="l" style="left:1122px;top:1252px;width:127px;height:4px;background:linear-gradient(to bottom,rgba(136,150,170,0.06) 0px 1px,rgba(136,150,170,0.64) 1px 2px,rgba(136,150,170,0.65) 2px 3px,rgba(136,150,170,0.06) 3px 4px)"></div>
<div class="l" style="left:1249px;top:1252px;width:126px;height:4px;background:linear-gradient(to bottom,rgba(136,150,170,0.06) 0px 1px,rgba(136,150,170,0.64) 1px 2px,rgba(136,150,170,0.65) 2px 3px,rgba(136,150,170,0.06) 3px 4px)"></div>
<div class="l" style="left:1375px;top:1252px;width:125px;height:4px;background:linear-gradient(to bottom,rgba(136,150,170,0.06) 0px 1px,rgba(136,150,170,0.64) 1px 2px,rgba(136,150,170,0.65) 2px 3px,rgba(136,150,170,0.06) 3px 4px)"></div>
<div class="l" style="left:2px;top:1318px;width:483px;height:4px;background:linear-gradient(to bottom,rgba(136,150,170,0.07) 0px 1px,rgba(136,150,170,0.74) 1px 2px,rgba(136,150,170,0.55) 2px 3px,rgba(136,150,170,0.05) 3px 4px)"></div>
<div class="l" style="left:488px;top:1318px;width:126px;height:4px;background:linear-gradient(to bottom,rgba(159,161,175,0.07) 0px 1px,rgba(159,161,175,0.74) 1px 2px,rgba(159,161,175,0.55) 2px 3px,rgba(159,161,175,0.05) 3px 4px)"></div>
<div class="l" style="left:614px;top:1318px;width:127px;height:4px;background:linear-gradient(to bottom,rgba(159,161,175,0.07) 0px 1px,rgba(159,161,175,0.74) 1px 2px,rgba(159,161,175,0.55) 2px 3px,rgba(159,161,175,0.05) 3px 4px)"></div>
<div class="l" style="left:741px;top:1318px;width:127px;height:4px;background:linear-gradient(to bottom,rgba(159,161,175,0.07) 0px 1px,rgba(159,161,175,0.74) 1px 2px,rgba(159,161,175,0.55) 2px 3px,rgba(159,161,175,0.05) 3px 4px)"></div>
<div class="l" style="left:868px;top:1318px;width:127px;height:4px;background:linear-gradient(to bottom,rgba(159,161,175,0.07) 0px 1px,rgba(159,161,175,0.74) 1px 2px,rgba(159,161,175,0.55) 2px 3px,rgba(159,161,175,0.05) 3px 4px)"></div>
<div class="l" style="left:995px;top:1318px;width:127px;height:4px;background:linear-gradient(to bottom,rgba(136,150,170,0.07) 0px 1px,rgba(136,150,170,0.74) 1px 2px,rgba(136,150,170,0.55) 2px 3px,rgba(136,150,170,0.05) 3px 4px)"></div>
<div class="l" style="left:1122px;top:1318px;width:127px;height:4px;background:linear-gradient(to bottom,rgba(136,150,170,0.07) 0px 1px,rgba(136,150,170,0.74) 1px 2px,rgba(136,150,170,0.55) 2px 3px,rgba(136,150,170,0.05) 3px 4px)"></div>
<div class="l" style="left:1249px;top:1318px;width:126px;height:4px;background:linear-gradient(to bottom,rgba(136,150,170,0.07) 0px 1px,rgba(136,150,170,0.74) 1px 2px,rgba(136,150,170,0.55) 2px 3px,rgba(136,150,170,0.05) 3px 4px)"></div>
<div class="l" style="left:1375px;top:1318px;width:125px;height:4px;background:linear-gradient(to bottom,rgba(136,150,170,0.07) 0px 1px,rgba(136,150,170,0.74) 1px 2px,rgba(136,150,170,0.55) 2px 3px,rgba(136,150,170,0.05) 3px 4px)"></div>
<div class="l" style="left:2px;top:1384px;width:483px;height:4px;background:linear-gradient(to bottom,rgba(136,150,170,0.08) 0px 1px,rgba(136,150,170,0.83) 1px 2px,rgba(136,150,170,0.45) 2px 3px,rgba(136,150,170,0.04) 3px 4px)"></div>
<div class="l" style="left:488px;top:1384px;width:126px;height:4px;background:linear-gradient(to bottom,rgba(159,161,175,0.08) 0px 1px,rgba(159,161,175,0.83) 1px 2px,rgba(159,161,175,0.45) 2px 3px,rgba(159,161,175,0.04) 3px 4px)"></div>
<div class="l" style="left:614px;top:1384px;width:127px;height:4px;background:linear-gradient(to bottom,rgba(159,161,175,0.08) 0px 1px,rgba(159,161,175,0.83) 1px 2px,rgba(159,161,175,0.45) 2px 3px,rgba(159,161,175,0.04) 3px 4px)"></div>
<div class="l" style="left:741px;top:1384px;width:127px;height:4px;background:linear-gradient(to bottom,rgba(159,161,175,0.08) 0px 1px,rgba(159,161,175,0.83) 1px 2px,rgba(159,161,175,0.45) 2px 3px,rgba(159,161,175,0.04) 3px 4px)"></div>
<div class="l" style="left:868px;top:1384px;width:127px;height:4px;background:linear-gradient(to bottom,rgba(159,161,175,0.08) 0px 1px,rgba(159,161,175,0.83) 1px 2px,rgba(159,161,175,0.45) 2px 3px,rgba(159,161,175,0.04) 3px 4px)"></div>
<div class="l" style="left:995px;top:1384px;width:127px;height:4px;background:linear-gradient(to bottom,rgba(136,150,170,0.08) 0px 1px,rgba(136,150,170,0.83) 1px 2px,rgba(136,150,170,0.45) 2px 3px,rgba(136,150,170,0.04) 3px 4px)"></div>
<div class="l" style="left:1122px;top:1384px;width:127px;height:4px;background:linear-gradient(to bottom,rgba(136,150,170,0.08) 0px 1px,rgba(136,150,170,0.83) 1px 2px,rgba(136,150,170,0.45) 2px 3px,rgba(136,150,170,0.04) 3px 4px)"></div>
<div class="l" style="left:1249px;top:1384px;width:126px;height:4px;background:linear-gradient(to bottom,rgba(136,150,170,0.08) 0px 1px,rgba(136,150,170,0.83) 1px 2px,rgba(136,150,170,0.45) 2px 3px,rgba(136,150,170,0.04) 3px 4px)"></div>
<div class="l" style="left:1375px;top:1384px;width:125px;height:4px;background:linear-gradient(to bottom,rgba(136,150,170,0.08) 0px 1px,rgba(136,150,170,0.83) 1px 2px,rgba(136,150,170,0.45) 2px 3px,rgba(136,150,170,0.04) 3px 4px)"></div>
<div class="l" style="left:612px;top:3px;width:4px;height:65px;background:linear-gradient(to right,rgba(159,161,175,0.03) 0px 1px,rgba(159,161,175,0.44) 1px 2px,rgba(159,161,175,0.88) 2px 3px,rgba(159,161,175,0.10) 3px 4px)"></div>
<div class="l" style="left:612px;top:68px;width:4px;height:66px;background:linear-gradient(to right,rgba(159,161,175,0.03) 0px 1px,rgba(159,161,175,0.44) 1px 2px,rgba(159,161,175,0.88) 2px 3px,rgba(159,161,175,0.10) 3px 4px)"></div>
<div class="l" style="left:612px;top:134px;width:4px;height:66px;background:linear-gradient(to right,rgba(159,161,175,0.03) 0px 1px,rgba(159,161,175,0.44) 1px 2px,rgba(159,161,175,0.88) 2px 3px,rgba(159,161,175,0.10) 3px 4px)"></div>
<div class="l" style="left:612px;top:200px;width:4px;height:66px;background:linear-gradient(to right,rgba(159,161,175,0.03) 0px 1px,rgba(159,161,175,0.44) 1px 2px,rgba(159,161,175,0.88) 2px 3px,rgba(159,161,175,0.10) 3px 4px)"></div>
<div class="l" style="left:612px;top:266px;width:4px;height:66px;background:linear-gradient(to right,rgba(159,161,175,0.03) 0px 1px,rgba(159,161,175,0.44) 1px 2px,rgba(159,161,175,0.88) 2px 3px,rgba(159,161,175,0.10) 3px 4px)"></div>
<div class="l" style="left:612px;top:332px;width:4px;height:66px;background:linear-gradient(to right,rgba(159,161,175,0.03) 0px 1px,rgba(159,161,175,0.44) 1px 2px,rgba(159,161,175,0.88) 2px 3px,rgba(159,161,175,0.10) 3px 4px)"></div>
<div class="l" style="left:612px;top:398px;width:4px;height:65px;background:linear-gradient(to right,rgba(159,161,175,0.03) 0px 1px,rgba(159,161,175,0.44) 1px 2px,rgba(159,161,175,0.88) 2px 3px,rgba(159,161,175,0.10) 3px 4px)"></div>
<div class="l" style="left:612px;top:463px;width:4px;height:66px;background:linear-gradient(to right,rgba(159,161,175,0.03) 0px 1px,rgba(159,161,175,0.44) 1px 2px,rgba(159,161,175,0.88) 2px 3px,rgba(159,161,175,0.10) 3px 4px)"></div>
<div class="l" style="left:612px;top:529px;width:4px;height:66px;background:linear-gradient(to right,rgba(159,161,175,0.03) 0px 1px,rgba(159,161,175,0.44) 1px 2px,rgba(159,161,175,0.88) 2px 3px,rgba(159,161,175,0.10) 3px 4px)"></div>
<div class="l" style="left:612px;top:595px;width:4px;height:66px;background:linear-gradient(to right,rgba(159,161,175,0.03) 0px 1px,rgba(159,161,175,0.44) 1px 2px,rgba(159,161,175,0.88) 2px 3px,rgba(159,161,175,0.10) 3px 4px)"></div>
<div class="l" style="left:612px;top:661px;width:4px;height:66px;background:linear-gradient(to right,rgba(159,161,175,0.03) 0px 1px,rgba(159,161,175,0.44) 1px 2px,rgba(159,161,175,0.88) 2px 3px,rgba(159,161,175,0.10) 3px 4px)"></div>
<div class="l" style="left:612px;top:727px;width:4px;height:66px;background:linear-gradient(to right,rgba(159,161,175,0.03) 0px 1px,rgba(159,161,175,0.44) 1px 2px,rgba(159,161,175,0.88) 2px 3px,rgba(159,161,175,0.10) 3px 4px)"></div>
<div class="l" style="left:612px;top:793px;width:4px;height:66px;background:linear-gradient(to right,rgba(159,161,175,0.03) 0px 1px,rgba(159,161,175,0.44) 1px 2px,rgba(159,161,175,0.88) 2px 3px,rgba(159,161,175,0.10) 3px 4px)"></div>
<div class="l" style="left:612px;top:859px;width:4px;height:66px;background:linear-gradient(to right,rgba(159,161,175,0.03) 0px 1px,rgba(159,161,175,0.44) 1px 2px,rgba(159,161,175,0.88) 2px 3px,rgba(159,161,175,0.10) 3px 4px)"></div>
<div class="l" style="left:612px;top:925px;width:4px;height:65px;background:linear-gradient(to right,rgba(159,161,175,0.03) 0px 1px,rgba(159,161,175,0.44) 1px 2px,rgba(159,161,175,0.88) 2px 3px,rgba(159,161,175,0.10) 3px 4px)"></div>
<div class="l" style="left:612px;top:990px;width:4px;height:66px;background:linear-gradient(to right,rgba(159,161,175,0.03) 0px 1px,rgba(159,161,175,0.44) 1px 2px,rgba(159,161,175,0.88) 2px 3px,rgba(159,161,175,0.10) 3px 4px)"></div>
<div class="l" style="left:612px;top:1056px;width:4px;height:66px;background:linear-gradient(to right,rgba(159,161,175,0.03) 0px 1px,rgba(159,161,175,0.44) 1px 2px,rgba(159,161,175,0.88) 2px 3px,rgba(159,161,175,0.10) 3px 4px)"></div>
<div class="l" style="left:612px;top:1122px;width:4px;height:66px;background:linear-gradient(to right,rgba(159,161,175,0.03) 0px 1px,rgba(159,161,175,0.44) 1px 2px,rgba(159,161,175,0.88) 2px 3px,rgba(159,161,175,0.10) 3px 4px)"></div>
<div class="l" style="left:612px;top:1188px;width:4px;height:66px;background:linear-gradient(to right,rgba(159,161,175,0.03) 0px 1px,rgba(159,161,175,0.44) 1px 2px,rgba(159,161,175,0.88) 2px 3px,rgba(159,161,175,0.10) 3px 4px)"></div>
<div class="l" style="left:612px;top:1254px;width:4px;height:66px;background:linear-gradient(to right,rgba(159,161,175,0.03) 0px 1px,rgba(159,161,175,0.44) 1px 2px,rgba(159,161,175,0.88) 2px 3px,rgba(159,161,175,0.10) 3px 4px)"></div>
<div class="l" style="left:612px;top:1320px;width:4px;height:66px;background:linear-gradient(to right,rgba(159,161,175,0.03) 0px 1px,rgba(159,161,175,0.44) 1px 2px,rgba(159,161,175,0.88) 2px 3px,rgba(159,161,175,0.10) 3px 4px)"></div>
<div class="l" style="left:612px;top:1386px;width:4px;height:2px;background:linear-gradient(to right,rgba(159,161,175,0.03) 0px 1px,rgba(159,161,175,0.44) 1px 2px,rgba(159,161,175,0.88) 2px 3px,rgba(159,161,175,0.10) 3px 4px)"></div>
<div class="l" style="left:739px;top:3px;width:4px;height:65px;background:linear-gradient(to right,rgba(159,161,175,0.05) 0px 1px,rgba(159,161,175,0.55) 1px 2px,rgba(159,161,175,0.78) 2px 3px,rgba(159,161,175,0.07) 3px 4px)"></div>
<div class="l" style="left:739px;top:68px;width:4px;height:66px;background:linear-gradient(to right,rgba(159,161,175,0.05) 0px 1px,rgba(159,161,175,0.55) 1px 2px,rgba(159,161,175,0.78) 2px 3px,rgba(159,161,175,0.07) 3px 4px)"></div>
<div class="l" style="left:739px;top:134px;width:4px;height:66px;background:linear-gradient(to right,rgba(159,161,175,0.05) 0px 1px,rgba(159,161,175,0.55) 1px 2px,rgba(159,161,175,0.78) 2px 3px,rgba(159,161,175,0.07) 3px 4px)"></div>
<div class="l" style="left:739px;top:200px;width:4px;height:66px;background:linear-gradient(to right,rgba(159,161,175,0.05) 0px 1px,rgba(159,161,175,0.55) 1px 2px,rgba(159,161,175,0.78) 2px 3px,rgba(159,161,175,0.07) 3px 4px)"></div>
<div class="l" style="left:739px;top:266px;width:4px;height:66px;background:linear-gradient(to right,rgba(159,161,175,0.05) 0px 1px,rgba(159,161,175,0.55) 1px 2px,rgba(159,161,175,0.78) 2px 3px,rgba(159,161,175,0.07) 3px 4px)"></div>
<div class="l" style="left:739px;top:332px;width:4px;height:66px;background:linear-gradient(to right,rgba(159,161,175,0.05) 0px 1px,rgba(159,161,175,0.55) 1px 2px,rgba(159,161,175,0.78) 2px 3px,rgba(159,161,175,0.07) 3px 4px)"></div>
<div class="l" style="left:739px;top:398px;width:4px;height:65px;background:linear-gradient(to right,rgba(159,161,175,0.05) 0px 1px,rgba(159,161,175,0.55) 1px 2px,rgba(159,161,175,0.78) 2px 3px,rgba(159,161,175,0.07) 3px 4px)"></div>
<div class="l" style="left:739px;top:463px;width:4px;height:66px;background:linear-gradient(to right,rgba(159,161,175,0.05) 0px 1px,rgba(159,161,175,0.55) 1px 2px,rgba(159,161,175,0.78) 2px 3px,rgba(159,161,175,0.07) 3px 4px)"></div>
<div class="l" style="left:739px;top:529px;width:4px;height:66px;background:linear-gradient(to right,rgba(159,161,175,0.05) 0px 1px,rgba(159,161,175,0.55) 1px 2px,rgba(159,161,175,0.78) 2px 3px,rgba(159,161,175,0.07) 3px 4px)"></div>
<div class="l" style="left:739px;top:595px;width:4px;height:66px;background:linear-gradient(to right,rgba(159,161,175,0.05) 0px 1px,rgba(159,161,175,0.55) 1px 2px,rgba(159,161,175,0.78) 2px 3px,rgba(159,161,175,0.07) 3px 4px)"></div>
<div class="l" style="left:739px;top:661px;width:4px;height:66px;background:linear-gradient(to right,rgba(159,161,175,0.05) 0px 1px,rgba(159,161,175,0.55) 1px 2px,rgba(159,161,175,0.78) 2px 3px,rgba(159,161,175,0.07) 3px 4px)"></div>
<div class="l" style="left:739px;top:727px;width:4px;height:66px;background:linear-gradient(to right,rgba(159,161,175,0.05) 0px 1px,rgba(159,161,175,0.55) 1px 2px,rgba(159,161,175,0.78) 2px 3px,rgba(159,161,175,0.07) 3px 4px)"></div>
<div class="l" style="left:739px;top:793px;width:4px;height:66px;background:linear-gradient(to right,rgba(159,161,175,0.05) 0px 1px,rgba(159,161,175,0.55) 1px 2px,rgba(159,161,175,0.78) 2px 3px,rgba(159,161,175,0.07) 3px 4px)"></div>
<div class="l" style="left:739px;top:859px;width:4px;height:66px;background:linear-gradient(to right,rgba(159,161,175,0.05) 0px 1px,rgba(159,161,175,0.55) 1px 2px,rgba(159,161,175,0.78) 2px 3px,rgba(159,161,175,0.07) 3px 4px)"></div>
<div class="l" style="left:739px;top:925px;width:4px;height:65px;background:linear-gradient(to right,rgba(159,161,175,0.05) 0px 1px,rgba(159,161,175,0.55) 1px 2px,rgba(159,161,175,0.78) 2px 3px,rgba(159,161,175,0.07) 3px 4px)"></div>
<div class="l" style="left:739px;top:990px;width:4px;height:66px;background:linear-gradient(to right,rgba(159,161,175,0.05) 0px 1px,rgba(159,161,175,0.55) 1px 2px,rgba(159,161,175,0.78) 2px 3px,rgba(159,161,175,0.07) 3px 4px)"></div>
<div class="l" style="left:739px;top:1056px;width:4px;height:66px;background:linear-gradient(to right,rgba(159,161,175,0.05) 0px 1px,rgba(159,161,175,0.55) 1px 2px,rgba(159,161,175,0.78) 2px 3px,rgba(159,161,175,0.07) 3px 4px)"></div>
<div class="l" style="left:739px;top:1122px;width:4px;height:66px;background:linear-gradient(to right,rgba(159,161,175,0.05) 0px 1px,rgba(159,161,175,0.55) 1px 2px,rgba(159,161,175,0.78) 2px 3px,rgba(159,161,175,0.07) 3px 4px)"></div>
<div class="l" style="left:739px;top:1188px;width:4px;height:66px;background:linear-gradient(to right,rgba(159,161,175,0.05) 0px 1px,rgba(159,161,175,0.55) 1px 2px,rgba(159,161,175,0.78) 2px 3px,rgba(159,161,175,0.07) 3px 4px)"></div>
<div class="l" style="left:739px;top:1254px;width:4px;height:66px;background:linear-gradient(to right,rgba(159,161,175,0.05) 0px 1px,rgba(159,161,175,0.55) 1px 2px,rgba(159,161,175,0.78) 2px 3px,rgba(159,161,175,0.07) 3px 4px)"></div>
<div class="l" style="left:739px;top:1320px;width:4px;height:66px;background:linear-gradient(to right,rgba(159,161,175,0.05) 0px 1px,rgba(159,161,175,0.55) 1px 2px,rgba(159,161,175,0.78) 2px 3px,rgba(159,161,175,0.07) 3px 4px)"></div>
<div class="l" style="left:739px;top:1386px;width:4px;height:2px;background:linear-gradient(to right,rgba(159,161,175,0.05) 0px 1px,rgba(159,161,175,0.55) 1px 2px,rgba(159,161,175,0.78) 2px 3px,rgba(159,161,175,0.07) 3px 4px)"></div>
<div class="l" style="left:866px;top:3px;width:4px;height:65px;background:linear-gradient(to right,rgba(159,161,175,0.06) 0px 1px,rgba(159,161,175,0.67) 1px 2px,rgba(159,161,175,0.67) 2px 3px,rgba(159,161,175,0.06) 3px 4px)"></div>
<div class="l" style="left:866px;top:68px;width:4px;height:66px;background:linear-gradient(to right,rgba(159,161,175,0.06) 0px 1px,rgba(159,161,175,0.67) 1px 2px,rgba(159,161,175,0.67) 2px 3px,rgba(159,161,175,0.06) 3px 4px)"></div>
<div class="l" style="left:866px;top:134px;width:4px;height:66px;background:linear-gradient(to right,rgba(159,161,175,0.06) 0px 1px,rgba(159,161,175,0.67) 1px 2px,rgba(159,161,175,0.67) 2px 3px,rgba(159,161,175,0.06) 3px 4px)"></div>
<div class="l" style="left:866px;top:200px;width:4px;height:66px;background:linear-gradient(to right,rgba(159,161,175,0.06) 0px 1px,rgba(159,161,175,0.67) 1px 2px,rgba(159,161,175,0.67) 2px 3px,rgba(159,161,175,0.06) 3px 4px)"></div>
<div class="l" style="left:866px;top:266px;width:4px;height:66px;background:linear-gradient(to right,rgba(159,161,175,0.06) 0px 1px,rgba(159,161,175,0.67) 1px 2px,rgba(159,161,175,0.67) 2px 3px,rgba(159,161,175,0.06) 3px 4px)"></div>
<div class="l" style="left:866px;top:332px;width:4px;height:66px;background:linear-gradient(to right,rgba(159,161,175,0.06) 0px 1px,rgba(159,161,175,0.67) 1px 2px,rgba(159,161,175,0.67) 2px 3px,rgba(159,161,175,0.06) 3px 4px)"></div>
<div class="l" style="left:866px;top:398px;width:4px;height:65px;background:linear-gradient(to right,rgba(159,161,175,0.06) 0px 1px,rgba(159,161,175,0.67) 1px 2px,rgba(159,161,175,0.67) 2px 3px,rgba(159,161,175,0.06) 3px 4px)"></div>
<div class="l" style="left:866px;top:463px;width:4px;height:66px;background:linear-gradient(to right,rgba(159,161,175,0.06) 0px 1px,rgba(159,161,175,0.67) 1px 2px,rgba(159,161,175,0.67) 2px 3px,rgba(159,161,175,0.06) 3px 4px)"></div>
<div class="l" style="left:866px;top:529px;width:4px;height:66px;background:linear-gradient(to right,rgba(159,161,175,0.06) 0px 1px,rgba(159,161,175,0.67) 1px 2px,rgba(159,161,175,0.67) 2px 3px,rgba(159,161,175,0.06) 3px 4px)"></div>
<div class="l" style="left:866px;top:595px;width:4px;height:66px;background:linear-gradient(to right,rgba(159,161,175,0.06) 0px 1px,rgba(159,161,175,0.67) 1px 2px,rgba(159,161,175,0.67) 2px 3px,rgba(159,161,175,0.06) 3px 4px)"></div>
<div class="l" style="left:866px;top:661px;width:4px;height:66px;background:linear-gradient(to right,rgba(159,161,175,0.06) 0px 1px,rgba(159,161,175,0.67) 1px 2px,rgba(159,161,175,0.67) 2px 3px,rgba(159,161,175,0.06) 3px 4px)"></div>
<div class="l" style="left:866px;top:727px;width:4px;height:66px;background:linear-gradient(to right,rgba(159,161,175,0.06) 0px 1px,rgba(159,161,175,0.67) 1px 2px,rgba(159,161,175,0.67) 2px 3px,rgba(159,161,175,0.06) 3px 4px)"></div>
<div class="l" style="left:866px;top:793px;width:4px;height:66px;background:linear-gradient(to right,rgba(159,161,175,0.06) 0px 1px,rgba(159,161,175,0.67) 1px 2px,rgba(159,161,175,0.67) 2px 3px,rgba(159,161,175,0.06) 3px 4px)"></div>
<div class="l" style="left:866px;top:859px;width:4px;height:66px;background:linear-gradient(to right,rgba(159,161,175,0.06) 0px 1px,rgba(159,161,175,0.67) 1px 2px,rgba(159,161,175,0.67) 2px 3px,rgba(159,161,175,0.06) 3px 4px)"></div>
<div class="l" style="left:866px;top:925px;width:4px;height:65px;background:linear-gradient(to right,rgba(159,161,175,0.06) 0px 1px,rgba(159,161,175,0.67) 1px 2px,rgba(159,161,175,0.67) 2px 3px,rgba(159,161,175,0.06) 3px 4px)"></div>
<div class="l" style="left:866px;top:990px;width:4px;height:66px;background:linear-gradient(to right,rgba(159,161,175,0.06) 0px 1px,rgba(159,161,175,0.67) 1px 2px,rgba(159,161,175,0.67) 2px 3px,rgba(159,161,175,0.06) 3px 4px)"></div>
<div class="l" style="left:866px;top:1056px;width:4px;height:66px;background:linear-gradient(to right,rgba(159,161,175,0.06) 0px 1px,rgba(159,161,175,0.67) 1px 2px,rgba(159,161,175,0.67) 2px 3px,rgba(159,161,175,0.06) 3px 4px)"></div>
<div class="l" style="left:866px;top:1122px;width:4px;height:66px;background:linear-gradient(to right,rgba(159,161,175,0.06) 0px 1px,rgba(159,161,175,0.67) 1px 2px,rgba(159,161,175,0.67) 2px 3px,rgba(159,161,175,0.06) 3px 4px)"></div>
<div class="l" style="left:866px;top:1188px;width:4px;height:66px;background:linear-gradient(to right,rgba(159,161,175,0.06) 0px 1px,rgba(159,161,175,0.67) 1px 2px,rgba(159,161,175,0.67) 2px 3px,rgba(159,161,175,0.06) 3px 4px)"></div>
<div class="l" style="left:866px;top:1254px;width:4px;height:66px;background:linear-gradient(to right,rgba(159,161,175,0.06) 0px 1px,rgba(159,161,175,0.67) 1px 2px,rgba(159,161,175,0.67) 2px 3px,rgba(159,161,175,0.06) 3px 4px)"></div>
<div class="l" style="left:866px;top:1320px;width:4px;height:66px;background:linear-gradient(to right,rgba(159,161,175,0.06) 0px 1px,rgba(159,161,175,0.67) 1px 2px,rgba(159,161,175,0.67) 2px 3px,rgba(159,161,175,0.06) 3px 4px)"></div>
<div class="l" style="left:866px;top:1386px;width:4px;height:2px;background:linear-gradient(to right,rgba(159,161,175,0.06) 0px 1px,rgba(159,161,175,0.67) 1px 2px,rgba(159,161,175,0.67) 2px 3px,rgba(159,161,175,0.06) 3px 4px)"></div>
<div class="l" style="left:993px;top:3px;width:4px;height:65px;background:linear-gradient(to right,rgba(159,161,175,0.07) 0px 1px,rgba(159,161,175,0.78) 1px 2px,rgba(159,161,175,0.55) 2px 3px,rgba(159,161,175,0.05) 3px 4px)"></div>
<div class="l" style="left:993px;top:68px;width:4px;height:66px;background:linear-gradient(to right,rgba(136,150,170,0.07) 0px 1px,rgba(136,150,170,0.78) 1px 2px,rgba(136,150,170,0.55) 2px 3px,rgba(136,150,170,0.05) 3px 4px)"></div>
<div class="l" style="left:993px;top:134px;width:4px;height:66px;background:linear-gradient(to right,rgba(136,150,170,0.07) 0px 1px,rgba(136,150,170,0.78) 1px 2px,rgba(136,150,170,0.55) 2px 3px,rgba(136,150,170,0.05) 3px 4px)"></div>
<div class="l" style="left:993px;top:200px;width:4px;height:66px;background:linear-gradient(to right,rgba(159,161,175,0.07) 0px 1px,rgba(159,161,175,0.78) 1px 2px,rgba(159,161,175,0.55) 2px 3px,rgba(159,161,175,0.05) 3px 4px)"></div>
<div class="l" style="left:993px;top:266px;width:4px;height:66px;background:linear-gradient(to right,rgba(136,150,170,0.07) 0px 1px,rgba(136,150,170,0.78) 1px 2px,rgba(136,150,170,0.55) 2px 3px,rgba(136,150,170,0.05) 3px 4px)"></div>
<div class="l" style="left:993px;top:332px;width:4px;height:66px;background:linear-gradient(to right,rgba(159,161,175,0.07) 0px 1px,rgba(159,161,175,0.78) 1px 2px,rgba(159,161,175,0.55) 2px 3px,rgba(159,161,175,0.05) 3px 4px)"></div>
<div class="l" style="left:993px;top:398px;width:4px;height:65px;background:linear-gradient(to right,rgba(159,161,175,0.07) 0px 1px,rgba(159,161,175,0.78) 1px 2px,rgba(159,161,175,0.55) 2px 3px,rgba(159,161,175,0.05) 3px 4px)"></div>
<div class="l" style="left:993px;top:463px;width:4px;height:66px;background:linear-gradient(to right,rgba(159,161,175,0.07) 0px 1px,rgba(159,161,175,0.78) 1px 2px,rgba(159,161,175,0.55) 2px 3px,rgba(159,161,175,0.05) 3px 4px)"></div>
<div class="l" style="left:993px;top:529px;width:4px;height:66px;background:linear-gradient(to right,rgba(159,161,175,0.07) 0px 1px,rgba(159,161,175,0.78) 1px 2px,rgba(159,161,175,0.55) 2px 3px,rgba(159,161,175,0.05) 3px 4px)"></div>
<div class="l" style="left:993px;top:595px;width:4px;height:66px;background:linear-gradient(to right,rgba(159,161,175,0.07) 0px 1px,rgba(159,161,175,0.78) 1px 2px,rgba(159,161,175,0.55) 2px 3px,rgba(159,161,175,0.05) 3px 4px)"></div>
<div class="l" style="left:993px;top:661px;width:4px;height:66px;background:linear-gradient(to right,rgba(159,161,175,0.07) 0px 1px,rgba(159,161,175,0.78) 1px 2px,rgba(159,161,175,0.55) 2px 3px,rgba(159,161,175,0.05) 3px 4px)"></div>
<div class="l" style="left:993px;top:727px;width:4px;height:66px;background:linear-gradient(to right,rgba(136,150,170,0.07) 0px 1px,rgba(136,150,170,0.78) 1px 2px,rgba(136,150,170,0.55) 2px 3px,rgba(136,150,170,0.05) 3px 4px)"></div>
<div class="l" style="left:993px;top:793px;width:4px;height:66px;background:linear-gradient(to right,rgba(159,161,175,0.07) 0px 1px,rgba(159,161,175,0.78) 1px 2px,rgba(159,161,175,0.55) 2px 3px,rgba(159,161,175,0.05) 3px 4px)"></div>
<div class="l" style="left:993px;top:859px;width:4px;height:66px;background:linear-gradient(to right,rgba(159,161,175,0.07) 0px 1px,rgba(159,161,175,0.78) 1px 2px,rgba(159,161,175,0.55) 2px 3px,rgba(159,161,175,0.05) 3px 4px)"></div>
<div class="l" style="left:993px;top:925px;width:4px;height:65px;background:linear-gradient(to right,rgba(159,161,175,0.07) 0px 1px,rgba(159,161,175,0.78) 1px 2px,rgba(159,161,175,0.55) 2px 3px,rgba(159,161,175,0.05) 3px 4px)"></div>
<div class="l" style="left:993px;top:990px;width:4px;height:66px;background:linear-gradient(to right,rgba(136,150,170,0.07) 0px 1px,rgba(136,150,170,0.78) 1px 2px,rgba(136,150,170,0.55) 2px 3px,rgba(136,150,170,0.05) 3px 4px)"></div>
<div class="l" style="left:993px;top:1056px;width:4px;height:66px;background:linear-gradient(to right,rgba(136,150,170,0.07) 0px 1px,rgba(136,150,170,0.78) 1px 2px,rgba(136,150,170,0.55) 2px 3px,rgba(136,150,170,0.05) 3px 4px)"></div>
<div class="l" style="left:993px;top:1122px;width:4px;height:66px;background:linear-gradient(to right,rgba(159,161,175,0.07) 0px 1px,rgba(159,161,175,0.78) 1px 2px,rgba(159,161,175,0.55) 2px 3px,rgba(159,161,175,0.05) 3px 4px)"></div>
<div class="l" style="left:993px;top:1188px;width:4px;height:66px;background:linear-gradient(to right,rgba(159,161,175,0.07) 0px 1px,rgba(159,161,175,0.78) 1px 2px,rgba(159,161,175,0.55) 2px 3px,rgba(159,161,175,0.05) 3px 4px)"></div>
<div class="l" style="left:993px;top:1254px;width:4px;height:66px;background:linear-gradient(to right,rgba(159,161,175,0.07) 0px 1px,rgba(159,161,175,0.78) 1px 2px,rgba(159,161,175,0.55) 2px 3px,rgba(159,161,175,0.05) 3px 4px)"></div>
<div class="l" style="left:993px;top:1320px;width:4px;height:66px;background:linear-gradient(to right,rgba(136,150,170,0.07) 0px 1px,rgba(136,150,170,0.78) 1px 2px,rgba(136,150,170,0.55) 2px 3px,rgba(136,150,170,0.05) 3px 4px)"></div>
<div class="l" style="left:993px;top:1386px;width:4px;height:2px;background:linear-gradient(to right,rgba(159,161,175,0.07) 0px 1px,rgba(159,161,175,0.78) 1px 2px,rgba(159,161,175,0.55) 2px 3px,rgba(159,161,175,0.05) 3px 4px)"></div>
<div class="l" style="left:1120px;top:3px;width:4px;height:65px;background:linear-gradient(to right,rgba(136,150,170,0.10) 0px 1px,rgba(136,150,170,0.88) 1px 2px,rgba(136,150,170,0.44) 2px 3px,rgba(136,150,170,0.03) 3px 4px)"></div>
<div class="l" style="left:1120px;top:68px;width:4px;height:66px;background:linear-gradient(to right,rgba(136,150,170,0.10) 0px 1px,rgba(136,150,170,0.88) 1px 2px,rgba(136,150,170,0.44) 2px 3px,rgba(136,150,170,0.03) 3px 4px)"></div>
<div class="l" style="left:1120px;top:134px;width:4px;height:66px;background:linear-gradient(to right,rgba(136,150,170,0.10) 0px 1px,rgba(136,150,170,0.88) 1px 2px,rgba(136,150,170,0.44) 2px 3px,rgba(136,150,170,0.03) 3px 4px)"></div>
<div class="l" style="left:1120px;top:200px;width:4px;height:66px;background:linear-gradient(to right,rgba(136,150,170,0.10) 0px 1px,rgba(136,150,170,0.88) 1px 2px,rgba(136,150,170,0.44) 2px 3px,rgba(136,150,170,0.03) 3px 4px)"></div>
<div class="l" style="left:1120px;top:266px;width:4px;height:66px;background:linear-gradient(to right,rgba(136,150,170,0.10) 0px 1px,rgba(136,150,170,0.88) 1px 2px,rgba(136,150,170,0.44) 2px 3px,rgba(136,150,170,0.03) 3px 4px)"></div>
<div class="l" style="left:1120px;top:332px;width:4px;height:66px;background:linear-gradient(to right,rgba(136,150,170,0.10) 0px 1px,rgba(136,150,170,0.88) 1px 2px,rgba(136,150,170,0.44) 2px 3px,rgba(136,150,170,0.03) 3px 4px)"></div>
<div class="l" style="left:1120px;top:398px;width:4px;height:65px;background:linear-gradient(to right,rgba(136,150,170,0.10) 0px 1px,rgba(136,150,170,0.88) 1px 2px,rgba(136,150,170,0.44) 2px 3px,rgba(136,150,170,0.03) 3px 4px)"></div>
<div class="l" style="left:1120px;top:463px;width:4px;height:66px;background:linear-gradient(to right,rgba(136,150,170,0.10) 0px 1px,rgba(136,150,170,0.88) 1px 2px,rgba(136,150,170,0.44) 2px 3px,rgba(136,150,170,0.03) 3px 4px)"></div>
<div class="l" style="left:1120px;top:529px;width:4px;height:66px;background:linear-gradient(to right,rgba(136,150,170,0.10) 0px 1px,rgba(136,150,170,0.88) 1px 2px,rgba(136,150,170,0.44) 2px 3px,rgba(136,150,170,0.03) 3px 4px)"></div>
<div class="l" style="left:1120px;top:595px;width:4px;height:66px;background:linear-gradient(to right,rgba(136,150,170,0.10) 0px 1px,rgba(136,150,170,0.88) 1px 2px,rgba(136,150,170,0.44) 2px 3px,rgba(136,150,170,0.03) 3px 4px)"></div>
<div class="l" style="left:1120px;top:661px;width:4px;height:66px;background:linear-gradient(to right,rgba(136,150,170,0.10) 0px 1px,rgba(136,150,170,0.88) 1px 2px,rgba(136,150,170,0.44) 2px 3px,rgba(136,150,170,0.03) 3px 4px)"></div>
<div class="l" style="left:1120px;top:727px;width:4px;height:66px;background:linear-gradient(to right,rgba(136,150,170,0.10) 0px 1px,rgba(136,150,170,0.88) 1px 2px,rgba(136,150,170,0.44) 2px 3px,rgba(136,150,170,0.03) 3px 4px)"></div>
<div class="l" style="left:1120px;top:793px;width:4px;height:66px;background:linear-gradient(to right,rgba(136,150,170,0.10) 0px 1px,rgba(136,150,170,0.88) 1px 2px,rgba(136,150,170,0.44) 2px 3px,rgba(136,150,170,0.03) 3px 4px)"></div>
<div class="l" style="left:1120px;top:859px;width:4px;height:66px;background:linear-gradient(to right,rgba(136,150,170,0.10) 0px 1px,rgba(136,150,170,0.88) 1px 2px,rgba(136,150,170,0.44) 2px 3px,rgba(136,150,170,0.03) 3px 4px)"></div>
<div class="l" style="left:1120px;top:925px;width:4px;height:65px;background:linear-gradient(to right,rgba(136,150,170,0.10) 0px 1px,rgba(136,150,170,0.88) 1px 2px,rgba(136,150,170,0.44) 2px 3px,rgba(136,150,170,0.03) 3px 4px)"></div>
<div class="l" style="left:1120px;top:990px;width:4px;height:66px;background:linear-gradient(to right,rgba(136,150,170,0.10) 0px 1px,rgba(136,150,170,0.88) 1px 2px,rgba(136,150,170,0.44) 2px 3px,rgba(136,150,170,0.03) 3px 4px)"></div>
<div class="l" style="left:1120px;top:1056px;width:4px;height:66px;background:linear-gradient(to right,rgba(136,150,170,0.10) 0px 1px,rgba(136,150,170,0.88) 1px 2px,rgba(136,150,170,0.44) 2px 3px,rgba(136,150,170,0.03) 3px 4px)"></div>
<div class="l" style="left:1120px;top:1122px;width:4px;height:66px;background:linear-gradient(to right,rgba(136,150,170,0.10) 0px 1px,rgba(136,150,170,0.88) 1px 2px,rgba(136,150,170,0.44) 2px 3px,rgba(136,150,170,0.03) 3px 4px)"></div>
<div class="l" style="left:1120px;top:1188px;width:4px;height:66px;background:linear-gradient(to right,rgba(136,150,170,0.10) 0px 1px,rgba(136,150,170,0.88) 1px 2px,rgba(136,150,170,0.44) 2px 3px,rgba(136,150,170,0.03) 3px 4px)"></div>
<div class="l" style="left:1120px;top:1254px;width:4px;height:66px;background:linear-gradient(to right,rgba(136,150,170,0.10) 0px 1px,rgba(136,150,170,0.88) 1px 2px,rgba(136,150,170,0.44) 2px 3px,rgba(136,150,170,0.03) 3px 4px)"></div>
<div class="l" style="left:1120px;top:1320px;width:4px;height:66px;background:linear-gradient(to right,rgba(136,150,170,0.10) 0px 1px,rgba(136,150,170,0.88) 1px 2px,rgba(136,150,170,0.44) 2px 3px,rgba(136,150,170,0.03) 3px 4px)"></div>
<div class="l" style="left:1120px;top:1386px;width:4px;height:2px;background:linear-gradient(to right,rgba(136,150,170,0.10) 0px 1px,rgba(136,150,170,0.88) 1px 2px,rgba(136,150,170,0.44) 2px 3px,rgba(136,150,170,0.03) 3px 4px)"></div>
<div class="l" style="left:1247px;top:3px;width:4px;height:65px;background:linear-gradient(to right,rgba(136,150,170,0.23) 0px 1px,rgba(136,150,170,0.88) 1px 2px,rgba(136,150,170,0.31) 2px 3px,rgba(136,150,170,0.02) 3px 4px)"></div>
<div class="l" style="left:1247px;top:68px;width:4px;height:66px;background:linear-gradient(to right,rgba(136,150,170,0.23) 0px 1px,rgba(136,150,170,0.88) 1px 2px,rgba(136,150,170,0.31) 2px 3px,rgba(136,150,170,0.02) 3px 4px)"></div>
<div class="l" style="left:1247px;top:134px;width:4px;height:66px;background:linear-gradient(to right,rgba(136,150,170,0.23) 0px 1px,rgba(136,150,170,0.88) 1px 2px,rgba(136,150,170,0.31) 2px 3px,rgba(136,150,170,0.02) 3px 4px)"></div>
<div class="l" style="left:1247px;top:200px;width:4px;height:66px;background:linear-gradient(to right,rgba(136,150,170,0.23) 0px 1px,rgba(136,150,170,0.88) 1px 2px,rgba(136,150,170,0.31) 2px 3px,rgba(136,150,170,0.02) 3px 4px)"></div>
<div class="l" style="left:1247px;top:266px;width:4px;height:66px;background:linear-gradient(to right,rgba(136,150,170,0.23) 0px 1px,rgba(136,150,170,0.88) 1px 2px,rgba(136,150,170,0.31) 2px 3px,rgba(136,150,170,0.02) 3px 4px)"></div>
<div class="l" style="left:1247px;top:332px;width:4px;height:66px;background:linear-gradient(to right,rgba(136,150,170,0.23) 0px 1px,rgba(136,150,170,0.88) 1px 2px,rgba(136,150,170,0.31) 2px 3px,rgba(136,150,170,0.02) 3px 4px)"></div>
<div class="l" style="left:1247px;top:398px;width:4px;height:65px;background:linear-gradient(to right,rgba(136,150,170,0.23) 0px 1px,rgba(136,150,170,0.88) 1px 2px,rgba(136,150,170,0.31) 2px 3px,rgba(136,150,170,0.02) 3px 4px)"></div>
<div class="l" style="left:1247px;top:463px;width:4px;height:66px;background:linear-gradient(to right,rgba(136,150,170,0.23) 0px 1px,rgba(136,150,170,0.88) 1px 2px,rgba(136,150,170,0.31) 2px 3px,rgba(136,150,170,0.02) 3px 4px)"></div>
<div class="l" style="left:1247px;top:529px;width:4px;height:66px;background:linear-gradient(to right,rgba(136,150,170,0.23) 0px 1px,rgba(136,150,170,0.88) 1px 2px,rgba(136,150,170,0.31) 2px 3px,rgba(136,150,170,0.02) 3px 4px)"></div>
<div class="l" style="left:1247px;top:595px;width:4px;height:66px;background:linear-gradient(to right,rgba(136,150,170,0.23) 0px 1px,rgba(136,150,170,0.88) 1px 2px,rgba(136,150,170,0.31) 2px 3px,rgba(136,150,170,0.02) 3px 4px)"></div>
<div class="l" style="left:1247px;top:661px;width:4px;height:66px;background:linear-gradient(to right,rgba(136,150,170,0.23) 0px 1px,rgba(136,150,170,0.88) 1px 2px,rgba(136,150,170,0.31) 2px 3px,rgba(136,150,170,0.02) 3px 4px)"></div>
<div class="l" style="left:1247px;top:727px;width:4px;height:66px;background:linear-gradient(to right,rgba(136,150,170,0.23) 0px 1px,rgba(136,150,170,0.88) 1px 2px,rgba(136,150,170,0.31) 2px 3px,rgba(136,150,170,0.02) 3px 4px)"></div>
<div class="l" style="left:1247px;top:793px;width:4px;height:66px;background:linear-gradient(to right,rgba(136,150,170,0.23) 0px 1px,rgba(136,150,170,0.88) 1px 2px,rgba(136,150,170,0.31) 2px 3px,rgba(136,150,170,0.02) 3px 4px)"></div>
<div class="l" style="left:1247px;top:859px;width:4px;height:66px;background:linear-gradient(to right,rgba(136,150,170,0.23) 0px 1px,rgba(136,150,170,0.88) 1px 2px,rgba(136,150,170,0.31) 2px 3px,rgba(136,150,170,0.02) 3px 4px)"></div>
<div class="l" style="left:1247px;top:925px;width:4px;height:65px;background:linear-gradient(to right,rgba(136,150,170,0.23) 0px 1px,rgba(136,150,170,0.88) 1px 2px,rgba(136,150,170,0.31) 2px 3px,rgba(136,150,170,0.02) 3px 4px)"></div>
<div class="l" style="left:1247px;top:990px;width:4px;height:66px;background:linear-gradient(to right,rgba(136,150,170,0.23) 0px 1px,rgba(136,150,170,0.88) 1px 2px,rgba(136,150,170,0.31) 2px 3px,rgba(136,150,170,0.02) 3px 4px)"></div>
<div class="l" style="left:1247px;top:1056px;width:4px;height:66px;background:linear-gradient(to right,rgba(136,150,170,0.23) 0px 1px,rgba(136,150,170,0.88) 1px 2px,rgba(136,150,170,0.31) 2px 3px,rgba(136,150,170,0.02) 3px 4px)"></div>
<div class="l" style="left:1247px;top:1122px;width:4px;height:66px;background:linear-gradient(to right,rgba(136,150,170,0.23) 0px 1px,rgba(136,150,170,0.88) 1px 2px,rgba(136,150,170,0.31) 2px 3px,rgba(136,150,170,0.02) 3px 4px)"></div>
<div class="l" style="left:1247px;top:1188px;width:4px;height:66px;background:linear-gradient(to right,rgba(136,150,170,0.23) 0px 1px,rgba(136,150,170,0.88) 1px 2px,rgba(136,150,170,0.31) 2px 3px,rgba(136,150,170,0.02) 3px 4px)"></div>
<div class="l" style="left:1247px;top:1254px;width:4px;height:66px;background:linear-gradient(to right,rgba(136,150,170,0.23) 0px 1px,rgba(136,150,170,0.88) 1px 2px,rgba(136,150,170,0.31) 2px 3px,rgba(136,150,170,0.02) 3px 4px)"></div>
<div class="l" style="left:1247px;top:1320px;width:4px;height:66px;background:linear-gradient(to right,rgba(136,150,170,0.23) 0px 1px,rgba(136,150,170,0.88) 1px 2px,rgba(136,150,170,0.31) 2px 3px,rgba(136,150,170,0.02) 3px 4px)"></div>
<div class="l" style="left:1247px;top:1386px;width:4px;height:2px;background:linear-gradient(to right,rgba(136,150,170,0.23) 0px 1px,rgba(136,150,170,0.88) 1px 2px,rgba(136,150,170,0.31) 2px 3px,rgba(136,150,170,0.02) 3px 4px)"></div>
<div class="l" style="left:1373px;top:3px;width:4px;height:65px;background:linear-gradient(to right,rgba(136,150,170,0.03) 0px 1px,rgba(136,150,170,0.35) 1px 2px,rgba(136,150,170,0.88) 2px 3px,rgba(136,150,170,0.18) 3px 4px)"></div>
<div class="l" style="left:1373px;top:68px;width:4px;height:66px;background:linear-gradient(to right,rgba(136,150,170,0.03) 0px 1px,rgba(136,150,170,0.35) 1px 2px,rgba(136,150,170,0.88) 2px 3px,rgba(136,150,170,0.18) 3px 4px)"></div>
<div class="l" style="left:1373px;top:134px;width:4px;height:66px;background:linear-gradient(to right,rgba(136,150,170,0.03) 0px 1px,rgba(136,150,170,0.35) 1px 2px,rgba(136,150,170,0.88) 2px 3px,rgba(136,150,170,0.18) 3px 4px)"></div>
<div class="l" style="left:1373px;top:200px;width:4px;height:66px;background:linear-gradient(to right,rgba(136,150,170,0.03) 0px 1px,rgba(136,150,170,0.35) 1px 2px,rgba(136,150,170,0.88) 2px 3px,rgba(136,150,170,0.18) 3px 4px)"></div>
<div class="l" style="left:1373px;top:266px;width:4px;height:66px;background:linear-gradient(to right,rgba(136,150,170,0.03) 0px 1px,rgba(136,150,170,0.35) 1px 2px,rgba(136,150,170,0.88) 2px 3px,rgba(136,150,170,0.18) 3px 4px)"></div>
<div class="l" style="left:1373px;top:332px;width:4px;height:66px;background:linear-gradient(to right,rgba(136,150,170,0.03) 0px 1px,rgba(136,150,170,0.35) 1px 2px,rgba(136,150,170,0.88) 2px 3px,rgba(136,150,170,0.18) 3px 4px)"></div>
<div class="l" style="left:1373px;top:398px;width:4px;height:65px;background:linear-gradient(to right,rgba(136,150,170,0.03) 0px 1px,rgba(136,150,170,0.35) 1px 2px,rgba(136,150,170,0.88) 2px 3px,rgba(136,150,170,0.18) 3px 4px)"></div>
<div class="l" style="left:1373px;top:463px;width:4px;height:66px;background:linear-gradient(to right,rgba(136,150,170,0.03) 0px 1px,rgba(136,150,170,0.35) 1px 2px,rgba(136,150,170,0.88) 2px 3px,rgba(136,150,170,0.18) 3px 4px)"></div>
<div class="l" style="left:1373px;top:529px;width:4px;height:66px;background:linear-gradient(to right,rgba(136,150,170,0.03) 0px 1px,rgba(136,150,170,0.35) 1px 2px,rgba(136,150,170,0.88) 2px 3px,rgba(136,150,170,0.18) 3px 4px)"></div>
<div class="l" style="left:1373px;top:595px;width:4px;height:66px;background:linear-gradient(to right,rgba(136,150,170,0.03) 0px 1px,rgba(136,150,170,0.35) 1px 2px,rgba(136,150,170,0.88) 2px 3px,rgba(136,150,170,0.18) 3px 4px)"></div>
<div class="l" style="left:1373px;top:661px;width:4px;height:66px;background:linear-gradient(to right,rgba(136,150,170,0.03) 0px 1px,rgba(136,150,170,0.35) 1px 2px,rgba(136,150,170,0.88) 2px 3px,rgba(136,150,170,0.18) 3px 4px)"></div>
<div class="l" style="left:1373px;top:727px;width:4px;height:66px;background:linear-gradient(to right,rgba(136,150,170,0.03) 0px 1px,rgba(136,150,170,0.35) 1px 2px,rgba(136,150,170,0.88) 2px 3px,rgba(136,150,170,0.18) 3px 4px)"></div>
<div class="l" style="left:1373px;top:793px;width:4px;height:66px;background:linear-gradient(to right,rgba(136,150,170,0.03) 0px 1px,rgba(136,150,170,0.35) 1px 2px,rgba(136,150,170,0.88) 2px 3px,rgba(136,150,170,0.18) 3px 4px)"></div>
<div class="l" style="left:1373px;top:859px;width:4px;height:66px;background:linear-gradient(to right,rgba(136,150,170,0.03) 0px 1px,rgba(136,150,170,0.35) 1px 2px,rgba(136,150,170,0.88) 2px 3px,rgba(136,150,170,0.18) 3px 4px)"></div>
<div class="l" style="left:1373px;top:925px;width:4px;height:65px;background:linear-gradient(to right,rgba(136,150,170,0.03) 0px 1px,rgba(136,150,170,0.35) 1px 2px,rgba(136,150,170,0.88) 2px 3px,rgba(136,150,170,0.18) 3px 4px)"></div>
<div class="l" style="left:1373px;top:990px;width:4px;height:66px;background:linear-gradient(to right,rgba(136,150,170,0.03) 0px 1px,rgba(136,150,170,0.35) 1px 2px,rgba(136,150,170,0.88) 2px 3px,rgba(136,150,170,0.18) 3px 4px)"></div>
<div class="l" style="left:1373px;top:1056px;width:4px;height:66px;background:linear-gradient(to right,rgba(136,150,170,0.03) 0px 1px,rgba(136,150,170,0.35) 1px 2px,rgba(136,150,170,0.88) 2px 3px,rgba(136,150,170,0.18) 3px 4px)"></div>
<div class="l" style="left:1373px;top:1122px;width:4px;height:66px;background:linear-gradient(to right,rgba(136,150,170,0.03) 0px 1px,rgba(136,150,170,0.35) 1px 2px,rgba(136,150,170,0.88) 2px 3px,rgba(136,150,170,0.18) 3px 4px)"></div>
<div class="l" style="left:1373px;top:1188px;width:4px;height:66px;background:linear-gradient(to right,rgba(136,150,170,0.03) 0px 1px,rgba(136,150,170,0.35) 1px 2px,rgba(136,150,170,0.88) 2px 3px,rgba(136,150,170,0.18) 3px 4px)"></div>
<div class="l" style="left:1373px;top:1254px;width:4px;height:66px;background:linear-gradient(to right,rgba(136,150,170,0.03) 0px 1px,rgba(136,150,170,0.35) 1px 2px,rgba(136,150,170,0.88) 2px 3px,rgba(136,150,170,0.18) 3px 4px)"></div>
<div class="l" style="left:1373px;top:1320px;width:4px;height:66px;background:linear-gradient(to right,rgba(136,150,170,0.03) 0px 1px,rgba(136,150,170,0.35) 1px 2px,rgba(136,150,170,0.88) 2px 3px,rgba(136,150,170,0.18) 3px 4px)"></div>
<div class="l" style="left:1373px;top:1386px;width:4px;height:2px;background:linear-gradient(to right,rgba(136,150,170,0.03) 0px 1px,rgba(136,150,170,0.35) 1px 2px,rgba(136,150,170,0.88) 2px 3px,rgba(136,150,170,0.18) 3px 4px)"></div>
<div class="l" style="left:0;top:0;width:2px;height:1388px;background:#97a4b6"></div>
<div class="l" style="left:485px;top:0;width:3px;height:1388px;background:#9faab9"></div>
<div class="l" style="left:0;top:0;width:1500px;height:3px;background:linear-gradient(to bottom,#a4adbc 0 2px,#98a4b6 2px 3px)"></div>
</body></html>
